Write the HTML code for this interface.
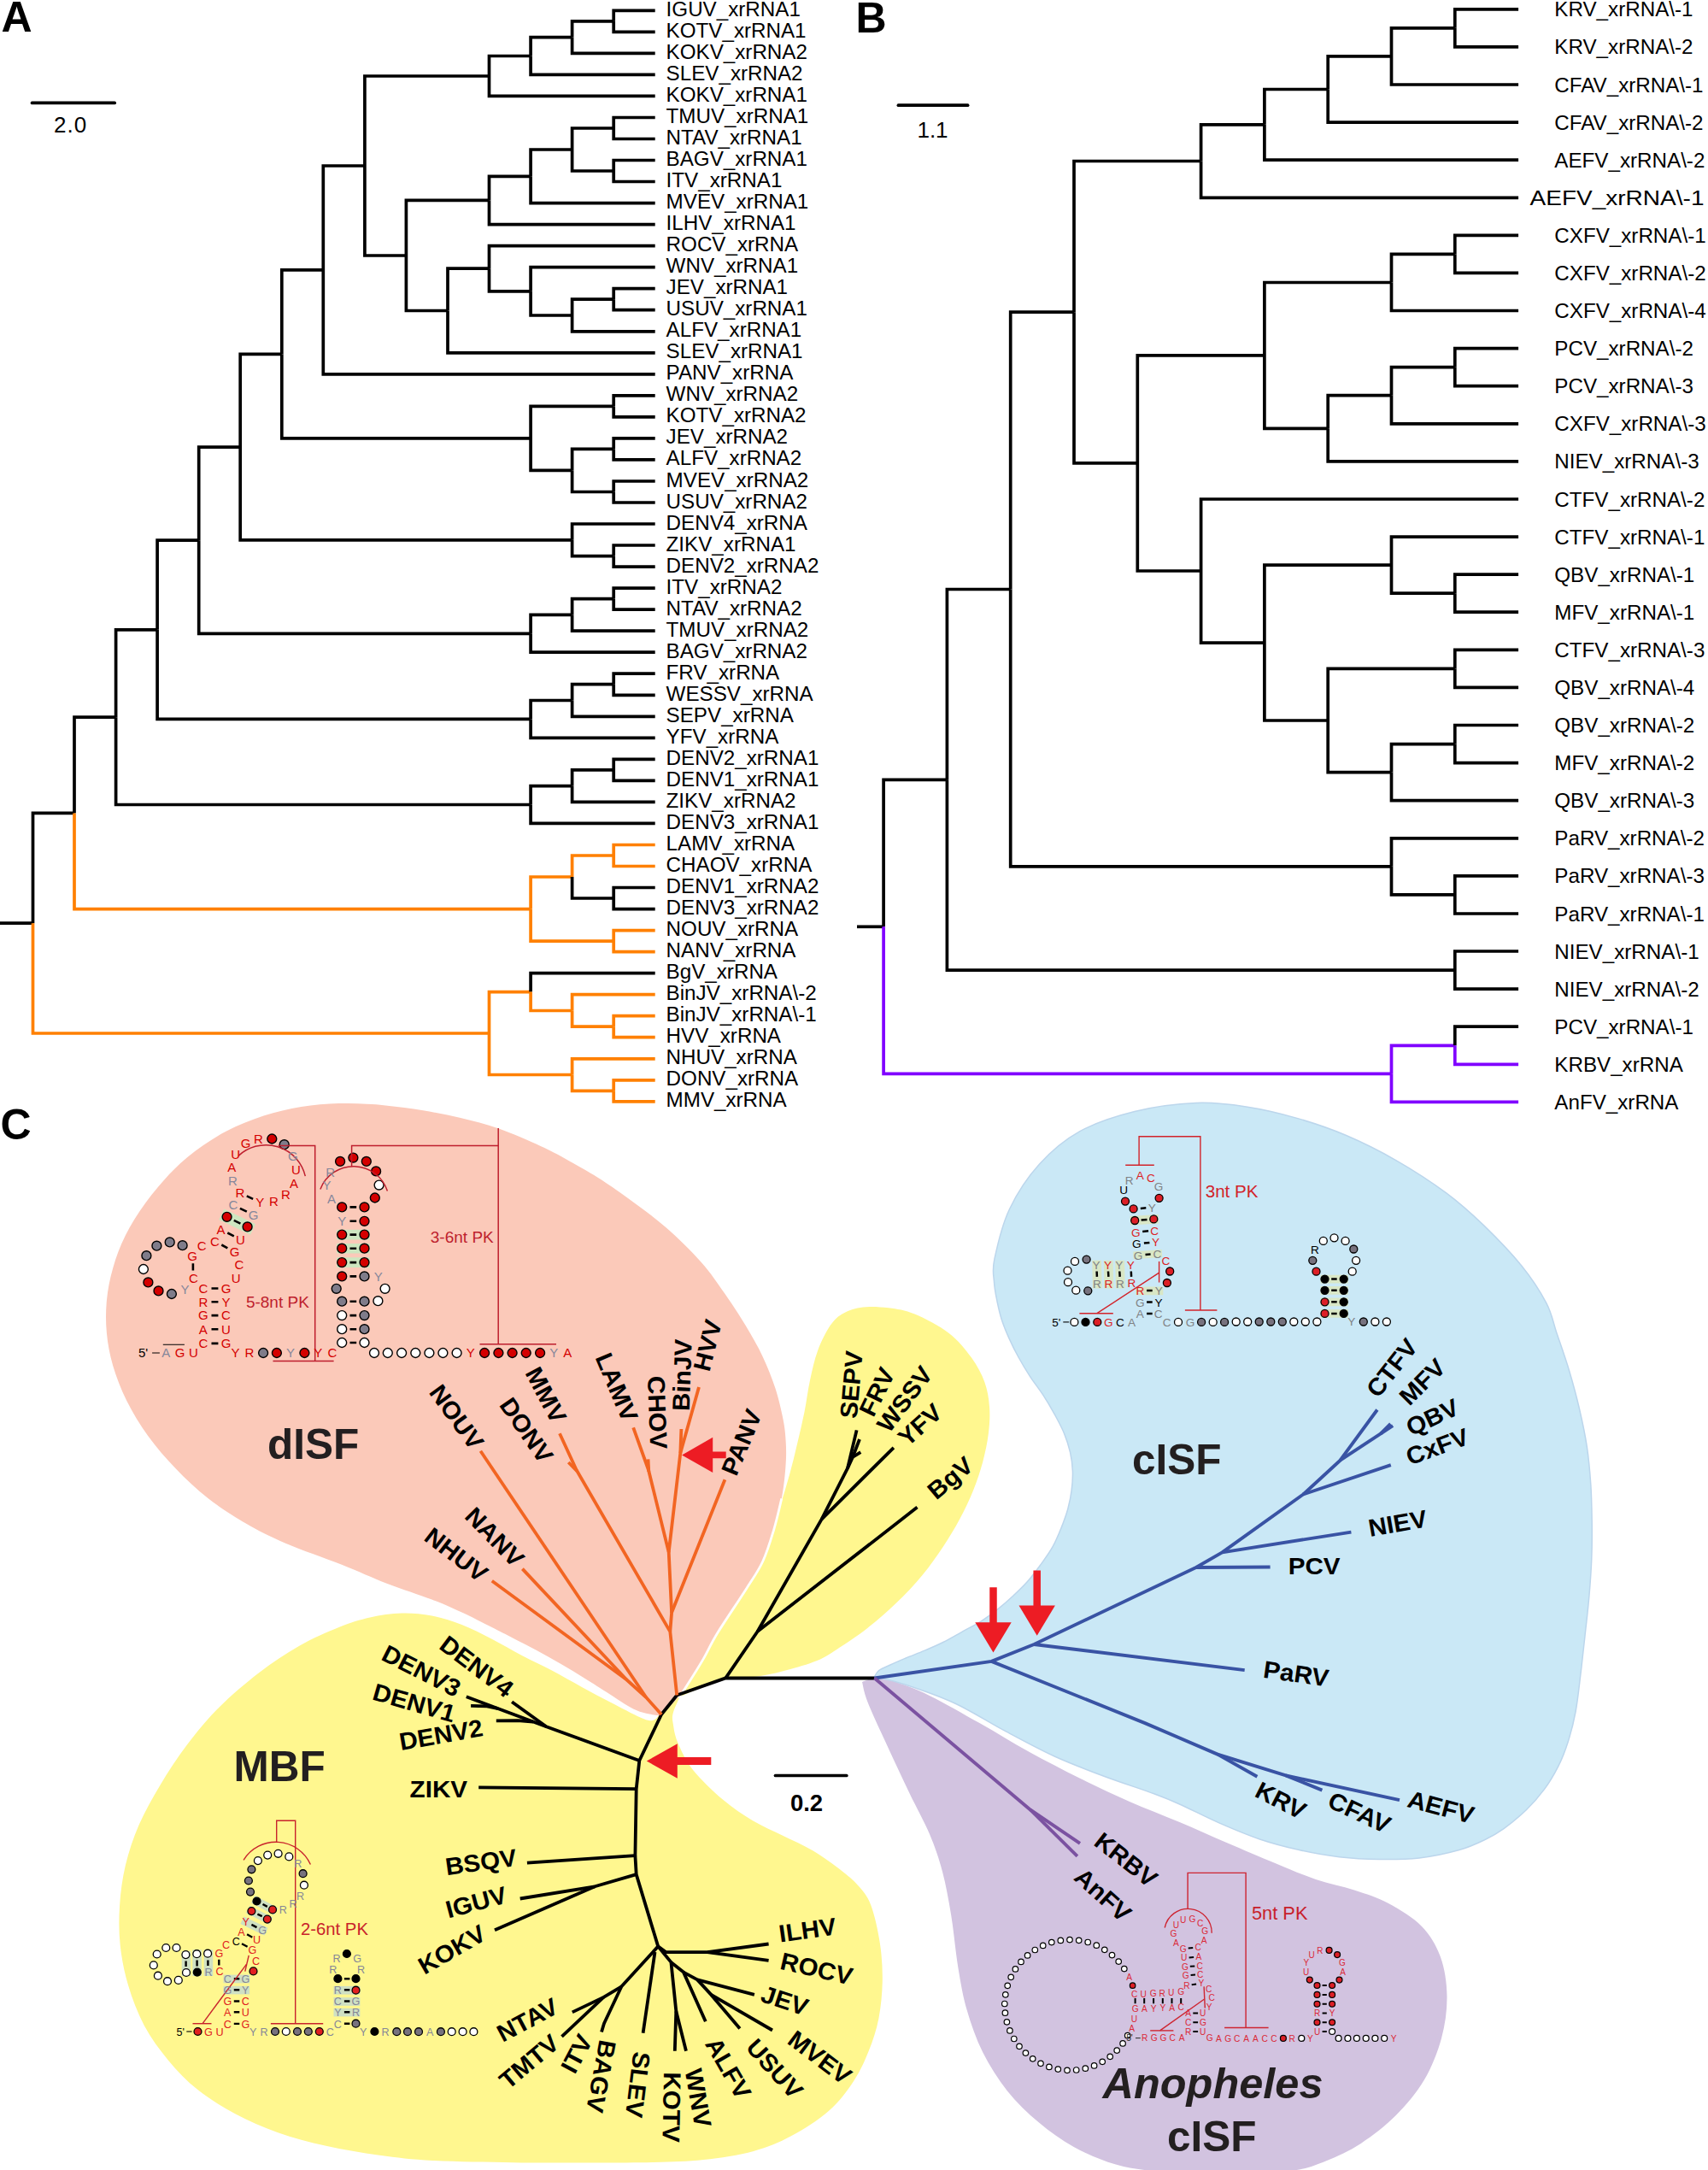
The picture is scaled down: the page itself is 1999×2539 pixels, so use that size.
<!DOCTYPE html>
<html><head><meta charset="utf-8"><title>Figure</title>
<style>html,body{margin:0;padding:0;background:#fff}svg{display:block}text{font-family:"Liberation Sans",sans-serif}</style>
</head><body>
<svg width="1999" height="2539" viewBox="0 0 1999 2539">
<rect width="1999" height="2539" fill="#fff"/>
<g fill="none" stroke-width="3.7" stroke-linejoin="miter">
<path d="M0,1080.2H38.5" stroke="#000"/>
<path d="M38.5,1080.2V951.4H87.0" stroke="#000"/>
<path d="M87.0,951.4V839.2H135.6" stroke="#000"/>
<path d="M135.6,839.2V736.8H184.1" stroke="#000"/>
<path d="M184.1,736.8V632.2H232.7" stroke="#000"/>
<path d="M232.7,632.2V523.1H281.2" stroke="#000"/>
<path d="M281.2,523.1V414.4H329.8" stroke="#000"/>
<path d="M329.8,414.4V315.9H378.3" stroke="#000"/>
<path d="M378.3,315.9V194.0H426.9" stroke="#000"/>
<path d="M426.9,194.0V89.0H572.5" stroke="#000"/>
<path d="M572.5,89.0V65.5H621.1" stroke="#000"/>
<path d="M621.1,65.5V43.6H669.6" stroke="#000"/>
<path d="M669.6,43.6V24.8H718.2" stroke="#000"/>
<path d="M718.2,24.8V12.3H766.7" stroke="#000"/>
<path d="M718.2,24.8V37.3H766.7" stroke="#000"/>
<path d="M669.6,43.6V62.4H766.7" stroke="#000"/>
<path d="M621.1,65.5V87.4H766.7" stroke="#000"/>
<path d="M572.5,89.0V112.4H766.7" stroke="#000"/>
<path d="M426.9,194.0V299.0H475.4" stroke="#000"/>
<path d="M475.4,299.0V234.4H572.5" stroke="#000"/>
<path d="M572.5,234.4V206.3H621.1" stroke="#000"/>
<path d="M621.1,206.3V175.0H669.6" stroke="#000"/>
<path d="M669.6,175.0V150.0H718.2" stroke="#000"/>
<path d="M718.2,150.0V137.5H766.7" stroke="#000"/>
<path d="M718.2,150.0V162.5H766.7" stroke="#000"/>
<path d="M669.6,175.0V200.0H718.2" stroke="#000"/>
<path d="M718.2,200.0V187.5H766.7" stroke="#000"/>
<path d="M718.2,200.0V212.5H766.7" stroke="#000"/>
<path d="M621.1,206.3V237.6H766.7" stroke="#000"/>
<path d="M572.5,234.4V262.6H766.7" stroke="#000"/>
<path d="M475.4,299.0V363.5H524.0" stroke="#000"/>
<path d="M524.0,363.5V314.2H572.5" stroke="#000"/>
<path d="M572.5,314.2V287.6H766.7" stroke="#000"/>
<path d="M572.5,314.2V340.8H621.1" stroke="#000"/>
<path d="M621.1,340.8V312.7H766.7" stroke="#000"/>
<path d="M621.1,340.8V369.0H669.6" stroke="#000"/>
<path d="M669.6,369.0V350.2H718.2" stroke="#000"/>
<path d="M718.2,350.2V337.7H766.7" stroke="#000"/>
<path d="M718.2,350.2V362.7H766.7" stroke="#000"/>
<path d="M669.6,369.0V387.8H766.7" stroke="#000"/>
<path d="M524.0,363.5V412.8H766.7" stroke="#000"/>
<path d="M378.3,315.9V437.8H766.7" stroke="#000"/>
<path d="M329.8,414.4V512.9H621.1" stroke="#000"/>
<path d="M621.1,512.9V475.4H718.2" stroke="#000"/>
<path d="M718.2,475.4V462.8H766.7" stroke="#000"/>
<path d="M718.2,475.4V487.9H766.7" stroke="#000"/>
<path d="M621.1,512.9V550.4H669.6" stroke="#000"/>
<path d="M669.6,550.4V525.4H718.2" stroke="#000"/>
<path d="M718.2,525.4V512.9H766.7" stroke="#000"/>
<path d="M718.2,525.4V537.9H766.7" stroke="#000"/>
<path d="M669.6,550.4V575.5H718.2" stroke="#000"/>
<path d="M718.2,575.5V563.0H766.7" stroke="#000"/>
<path d="M718.2,575.5V588.0H766.7" stroke="#000"/>
<path d="M281.2,523.1V631.8H669.6" stroke="#000"/>
<path d="M669.6,631.8V613.0H766.7" stroke="#000"/>
<path d="M669.6,631.8V650.6H718.2" stroke="#000"/>
<path d="M718.2,650.6V638.0H766.7" stroke="#000"/>
<path d="M718.2,650.6V663.1H766.7" stroke="#000"/>
<path d="M232.7,632.2V741.3H621.1" stroke="#000"/>
<path d="M621.1,741.3V719.4H669.6" stroke="#000"/>
<path d="M669.6,719.4V700.6H718.2" stroke="#000"/>
<path d="M718.2,700.6V688.1H766.7" stroke="#000"/>
<path d="M718.2,700.6V713.1H766.7" stroke="#000"/>
<path d="M669.6,719.4V738.2H766.7" stroke="#000"/>
<path d="M621.1,741.3V763.2H766.7" stroke="#000"/>
<path d="M184.1,736.8V841.4H621.1" stroke="#000"/>
<path d="M621.1,841.4V819.5H669.6" stroke="#000"/>
<path d="M669.6,819.5V800.7H718.2" stroke="#000"/>
<path d="M718.2,800.7V788.2H766.7" stroke="#000"/>
<path d="M718.2,800.7V813.3H766.7" stroke="#000"/>
<path d="M669.6,819.5V838.3H766.7" stroke="#000"/>
<path d="M621.1,841.4V863.3H766.7" stroke="#000"/>
<path d="M135.6,839.2V941.5H621.1" stroke="#000"/>
<path d="M621.1,941.5V919.6H669.6" stroke="#000"/>
<path d="M669.6,919.6V900.9H718.2" stroke="#000"/>
<path d="M718.2,900.9V888.4H766.7" stroke="#000"/>
<path d="M718.2,900.9V913.4H766.7" stroke="#000"/>
<path d="M669.6,919.6V938.4H766.7" stroke="#000"/>
<path d="M621.1,941.5V963.4H766.7" stroke="#000"/>
<path d="M87.0,951.4V1063.6H621.1" stroke="#FF8000"/>
<path d="M621.1,1063.6V1026.0H669.6" stroke="#FF8000"/>
<path d="M669.6,1026.0V1001.0H718.2" stroke="#FF8000"/>
<path d="M718.2,1001.0V988.5H766.7" stroke="#FF8000"/>
<path d="M718.2,1001.0V1013.5H766.7" stroke="#FF8000"/>
<path d="M669.6,1026.0V1051.0H718.2" stroke="#000"/>
<path d="M718.2,1051.0V1038.5H766.7" stroke="#000"/>
<path d="M718.2,1051.0V1063.6H766.7" stroke="#000"/>
<path d="M621.1,1063.6V1101.1H718.2" stroke="#FF8000"/>
<path d="M718.2,1101.1V1088.6H766.7" stroke="#FF8000"/>
<path d="M718.2,1101.1V1113.6H766.7" stroke="#FF8000"/>
<path d="M38.5,1080.2V1209.0H572.5" stroke="#FF8000"/>
<path d="M572.5,1209.0V1160.6H621.1" stroke="#FF8000"/>
<path d="M621.1,1160.6V1138.7H766.7" stroke="#000"/>
<path d="M621.1,1160.6V1182.5H669.6" stroke="#FF8000"/>
<path d="M669.6,1182.5V1163.7H766.7" stroke="#FF8000"/>
<path d="M669.6,1182.5V1201.2H718.2" stroke="#FF8000"/>
<path d="M718.2,1201.2V1188.7H766.7" stroke="#FF8000"/>
<path d="M718.2,1201.2V1213.7H766.7" stroke="#FF8000"/>
<path d="M572.5,1209.0V1257.5H669.6" stroke="#FF8000"/>
<path d="M669.6,1257.5V1238.8H766.7" stroke="#FF8000"/>
<path d="M669.6,1257.5V1276.3H718.2" stroke="#FF8000"/>
<path d="M718.2,1276.3V1263.8H766.7" stroke="#FF8000"/>
<path d="M718.2,1276.3V1288.8H766.7" stroke="#FF8000"/>
<path d="M1003,1084.3H1034.1" stroke="#000"/>
<path d="M1034.1,1084.3V912.3H1108.4" stroke="#000"/>
<path d="M1108.4,912.3V689.5H1182.7" stroke="#000"/>
<path d="M1182.7,689.5V365.2H1257.0" stroke="#000"/>
<path d="M1257.0,365.2V188.5H1405.6" stroke="#000"/>
<path d="M1405.6,188.5V145.8H1479.9" stroke="#000"/>
<path d="M1479.9,145.8V104.5H1554.2" stroke="#000"/>
<path d="M1554.2,104.5V65.9H1628.5" stroke="#000"/>
<path d="M1628.5,65.9V32.8H1702.8" stroke="#000"/>
<path d="M1702.8,32.8V10.8H1777.1" stroke="#000"/>
<path d="M1702.8,32.8V54.9H1777.1" stroke="#000"/>
<path d="M1628.5,65.9V99.0H1777.1" stroke="#000"/>
<path d="M1554.2,104.5V143.1H1777.1" stroke="#000"/>
<path d="M1479.9,145.8V187.2H1777.1" stroke="#000"/>
<path d="M1405.6,188.5V231.3H1777.1" stroke="#000"/>
<path d="M1257.0,365.2V541.9H1331.3" stroke="#000"/>
<path d="M1331.3,541.9V415.9H1479.9" stroke="#000"/>
<path d="M1479.9,415.9V330.5H1628.5" stroke="#000"/>
<path d="M1628.5,330.5V297.4H1702.8" stroke="#000"/>
<path d="M1702.8,297.4V275.3H1777.1" stroke="#000"/>
<path d="M1702.8,297.4V319.4H1777.1" stroke="#000"/>
<path d="M1628.5,330.5V363.5H1777.1" stroke="#000"/>
<path d="M1479.9,415.9V501.3H1554.2" stroke="#000"/>
<path d="M1554.2,501.3V462.7H1628.5" stroke="#000"/>
<path d="M1628.5,462.7V429.7H1702.8" stroke="#000"/>
<path d="M1702.8,429.7V407.6H1777.1" stroke="#000"/>
<path d="M1702.8,429.7V451.7H1777.1" stroke="#000"/>
<path d="M1628.5,462.7V495.8H1777.1" stroke="#000"/>
<path d="M1554.2,501.3V539.9H1777.1" stroke="#000"/>
<path d="M1331.3,541.9V668.0H1405.6" stroke="#000"/>
<path d="M1405.6,668.0V584.0H1777.1" stroke="#000"/>
<path d="M1405.6,668.0V752.1H1479.9" stroke="#000"/>
<path d="M1479.9,752.1V661.1H1628.5" stroke="#000"/>
<path d="M1628.5,661.1V628.1H1777.1" stroke="#000"/>
<path d="M1628.5,661.1V694.2H1702.8" stroke="#000"/>
<path d="M1702.8,694.2V672.1H1777.1" stroke="#000"/>
<path d="M1702.8,694.2V716.2H1777.1" stroke="#000"/>
<path d="M1479.9,752.1V843.0H1554.2" stroke="#000"/>
<path d="M1554.2,843.0V782.4H1702.8" stroke="#000"/>
<path d="M1702.8,782.4V760.3H1777.1" stroke="#000"/>
<path d="M1702.8,782.4V804.4H1777.1" stroke="#000"/>
<path d="M1554.2,843.0V903.6H1628.5" stroke="#000"/>
<path d="M1628.5,903.6V870.6H1702.8" stroke="#000"/>
<path d="M1702.8,870.6V848.5H1777.1" stroke="#000"/>
<path d="M1702.8,870.6V892.6H1777.1" stroke="#000"/>
<path d="M1628.5,903.6V936.7H1777.1" stroke="#000"/>
<path d="M1182.7,689.5V1013.8H1628.5" stroke="#000"/>
<path d="M1628.5,1013.8V980.8H1777.1" stroke="#000"/>
<path d="M1628.5,1013.8V1046.9H1702.8" stroke="#000"/>
<path d="M1702.8,1046.9V1024.9H1777.1" stroke="#000"/>
<path d="M1702.8,1046.9V1069.0H1777.1" stroke="#000"/>
<path d="M1108.4,912.3V1135.1H1702.8" stroke="#000"/>
<path d="M1702.8,1135.1V1113.0H1777.1" stroke="#000"/>
<path d="M1702.8,1135.1V1157.1H1777.1" stroke="#000"/>
<path d="M1034.1,1084.3V1256.3H1628.5" stroke="#8000FF"/>
<path d="M1628.5,1256.3V1223.3H1702.8" stroke="#8000FF"/>
<path d="M1702.8,1223.3V1201.2H1777.1" stroke="#000"/>
<path d="M1702.8,1223.3V1245.3H1777.1" stroke="#8000FF"/>
<path d="M1628.5,1256.3V1289.4H1777.1" stroke="#8000FF"/>
</g>
<g font-size="24.2" fill="#000">
<text x="779.6" y="18.8">IGUV_xrRNA1</text>
<text x="779.6" y="43.8">KOTV_xrRNA1</text>
<text x="779.6" y="68.9">KOKV_xrRNA2</text>
<text x="779.6" y="93.9">SLEV_xrRNA2</text>
<text x="779.6" y="118.9">KOKV_xrRNA1</text>
<text x="779.6" y="144.0">TMUV_xrRNA1</text>
<text x="779.6" y="169.0">NTAV_xrRNA1</text>
<text x="779.6" y="194.0">BAGV_xrRNA1</text>
<text x="779.6" y="219.0">ITV_xrRNA1</text>
<text x="779.6" y="244.1">MVEV_xrRNA1</text>
<text x="779.6" y="269.1">ILHV_xrRNA1</text>
<text x="779.6" y="294.1">ROCV_xrRNA</text>
<text x="779.6" y="319.2">WNV_xrRNA1</text>
<text x="779.6" y="344.2">JEV_xrRNA1</text>
<text x="779.6" y="369.2">USUV_xrRNA1</text>
<text x="779.6" y="394.3">ALFV_xrRNA1</text>
<text x="779.6" y="419.3">SLEV_xrRNA1</text>
<text x="779.6" y="444.3">PANV_xrRNA</text>
<text x="779.6" y="469.3">WNV_xrRNA2</text>
<text x="779.6" y="494.4">KOTV_xrRNA2</text>
<text x="779.6" y="519.4">JEV_xrRNA2</text>
<text x="779.6" y="544.4">ALFV_xrRNA2</text>
<text x="779.6" y="569.5">MVEV_xrRNA2</text>
<text x="779.6" y="594.5">USUV_xrRNA2</text>
<text x="779.6" y="619.5">DENV4_xrRNA</text>
<text x="779.6" y="644.5">ZIKV_xrRNA1</text>
<text x="779.6" y="669.6">DENV2_xrRNA2</text>
<text x="779.6" y="694.6">ITV_xrRNA2</text>
<text x="779.6" y="719.6">NTAV_xrRNA2</text>
<text x="779.6" y="744.7">TMUV_xrRNA2</text>
<text x="779.6" y="769.7">BAGV_xrRNA2</text>
<text x="779.6" y="794.7">FRV_xrRNA</text>
<text x="779.6" y="819.8">WESSV_xrRNA</text>
<text x="779.6" y="844.8">SEPV_xrRNA</text>
<text x="779.6" y="869.8">YFV_xrRNA</text>
<text x="779.6" y="894.9">DENV2_xrRNA1</text>
<text x="779.6" y="919.9">DENV1_xrRNA1</text>
<text x="779.6" y="944.9">ZIKV_xrRNA2</text>
<text x="779.6" y="969.9">DENV3_xrRNA1</text>
<text x="779.6" y="995.0">LAMV_xrRNA</text>
<text x="779.6" y="1020.0">CHAOV_xrRNA</text>
<text x="779.6" y="1045.0">DENV1_xrRNA2</text>
<text x="779.6" y="1070.1">DENV3_xrRNA2</text>
<text x="779.6" y="1095.1">NOUV_xrRNA</text>
<text x="779.6" y="1120.1">NANV_xrRNA</text>
<text x="779.6" y="1145.2">BgV_xrRNA</text>
<text x="779.6" y="1170.2">BinJV_xrRNA\-2</text>
<text x="779.6" y="1195.2">BinJV_xrRNA\-1</text>
<text x="779.6" y="1220.2">HVV_xrRNA</text>
<text x="779.6" y="1245.3">NHUV_xrRNA</text>
<text x="779.6" y="1270.3">DONV_xrRNA</text>
<text x="779.6" y="1295.3">MMV_xrRNA</text>
<text x="1819.3" y="19.3">KRV_xrRNA\-1</text>
<text x="1819.3" y="63.4">KRV_xrRNA\-2</text>
<text x="1819.3" y="107.5">CFAV_xrRNA\-1</text>
<text x="1819.3" y="151.6">CFAV_xrRNA\-2</text>
<text x="1819.3" y="195.7">AEFV_xrRNA\-2</text>
<text x="1790.5" y="239.8" textLength="204" lengthAdjust="spacingAndGlyphs">AEFV_xrRNA\-1</text>
<text x="1819.3" y="283.8">CXFV_xrRNA\-1</text>
<text x="1819.3" y="327.9">CXFV_xrRNA\-2</text>
<text x="1819.3" y="372.0">CXFV_xrRNA\-4</text>
<text x="1819.3" y="416.1">PCV_xrRNA\-2</text>
<text x="1819.3" y="460.2">PCV_xrRNA\-3</text>
<text x="1819.3" y="504.3">CXFV_xrRNA\-3</text>
<text x="1819.3" y="548.4">NIEV_xrRNA\-3</text>
<text x="1819.3" y="592.5">CTFV_xrRNA\-2</text>
<text x="1819.3" y="636.6">CTFV_xrRNA\-1</text>
<text x="1819.3" y="680.6">QBV_xrRNA\-1</text>
<text x="1819.3" y="724.7">MFV_xrRNA\-1</text>
<text x="1819.3" y="768.8">CTFV_xrRNA\-3</text>
<text x="1819.3" y="812.9">QBV_xrRNA\-4</text>
<text x="1819.3" y="857.0">QBV_xrRNA\-2</text>
<text x="1819.3" y="901.1">MFV_xrRNA\-2</text>
<text x="1819.3" y="945.2">QBV_xrRNA\-3</text>
<text x="1819.3" y="989.3">PaRV_xrRNA\-2</text>
<text x="1819.3" y="1033.4">PaRV_xrRNA\-3</text>
<text x="1819.3" y="1077.5">PaRV_xrRNA\-1</text>
<text x="1819.3" y="1121.5">NIEV_xrRNA\-1</text>
<text x="1819.3" y="1165.6">NIEV_xrRNA\-2</text>
<text x="1819.3" y="1209.7">PCV_xrRNA\-1</text>
<text x="1819.3" y="1253.8">KRBV_xrRNA</text>
<text x="1819.3" y="1297.9">AnFV_xrRNA</text>
</g>
<g stroke="#000" stroke-width="3.7" stroke-linecap="round"><path d="M37.5,120.4H134.2"/><path d="M1051.4,123.2H1132.6"/></g>
<g font-size="26" text-anchor="middle"><text x="82.2" y="155" textLength="38.2">2.0</text><text x="1091.5" y="161">1.1</text></g>
<g font-size="50" font-weight="bold"><text x="1.4" y="37">A</text><text x="1001.5" y="38.2">B</text><text x="0.5" y="1333.3">C</text></g>
<path d="M790.0,1988.0C791.7,1983.8 796.0,1971.1 800.0,1962.6C804.0,1954.1 807.0,1948.2 814.0,1936.9C821.0,1925.6 832.3,1907.5 842.0,1894.7C851.7,1881.9 864.8,1869.1 872.0,1860.0C879.2,1850.9 880.6,1850.0 885.3,1839.9C890.0,1829.8 895.4,1812.2 900.0,1799.3C904.6,1786.4 908.9,1774.8 912.9,1762.5C916.9,1750.2 920.6,1737.9 924.0,1725.6C927.4,1713.3 930.3,1701.1 933.2,1688.8C936.1,1676.5 939.0,1664.2 941.5,1651.9C944.0,1639.6 945.4,1627.0 948.0,1615.0C950.6,1603.0 953.2,1590.7 957.2,1580.0C961.2,1569.3 966.9,1557.9 971.9,1550.6C976.9,1543.3 981.0,1539.9 987.4,1536.4C993.8,1532.9 1001.2,1530.4 1010.0,1529.4C1018.8,1528.4 1029.9,1528.9 1040.0,1530.3C1050.1,1531.7 1058.9,1532.7 1070.6,1537.6C1082.3,1542.5 1099.3,1551.2 1110.4,1559.7C1121.5,1568.2 1130.0,1578.9 1137.0,1588.5C1144.0,1598.1 1148.9,1607.7 1152.4,1617.3C1155.9,1626.9 1157.2,1636.0 1158.0,1646.0C1158.8,1656.0 1158.2,1666.3 1156.9,1677.0C1155.6,1687.7 1153.2,1699.1 1150.3,1710.2C1147.3,1721.3 1143.6,1732.4 1139.2,1743.4C1134.8,1754.5 1129.6,1765.5 1123.7,1776.5C1117.8,1787.5 1111.2,1798.6 1103.8,1809.7C1096.4,1820.8 1088.7,1831.8 1079.5,1842.9C1070.3,1854.0 1059.2,1865.8 1048.5,1876.1C1037.8,1886.4 1026.4,1896.2 1015.3,1904.9C1004.2,1913.6 991.3,1922.0 982.1,1928.1C972.9,1934.2 969.5,1937.2 960.0,1941.4C950.5,1945.6 936.7,1949.7 925.0,1953.0C913.3,1956.3 903.0,1958.9 890.0,1961.0C877.0,1963.1 859.3,1962.8 846.8,1965.5C834.3,1968.2 824.5,1973.2 815.0,1977.0C805.5,1980.8 794.2,1986.2 790.0,1988.0Z" fill="#FFF78F"/>
<path d="M470.3,1887.5C482.4,1887.2 493.7,1888.2 505.4,1890.5C517.1,1892.8 528.8,1896.5 540.5,1901.0C552.2,1905.5 564.0,1911.7 575.7,1917.7C587.4,1923.7 599.1,1930.8 610.8,1937.0C622.5,1943.2 634.2,1948.4 645.9,1954.6C657.6,1960.8 669.5,1967.7 681.0,1973.9C692.5,1980.1 703.6,1986.1 715.0,1992.0C726.4,1997.9 741.2,2005.9 749.4,2009.4C757.6,2012.9 760.2,2013.6 764.0,2013.0C767.8,2012.4 770.7,2007.2 772.0,2006.0C773.3,2003.0 778.7,1991.0 780.0,1988.0C782.9,1986.9 794.6,1982.6 797.5,1981.5C795.9,1985.2 789.5,1997.7 787.9,2003.7C786.3,2009.8 787.0,2012.0 787.9,2017.8C788.8,2023.6 789.4,2030.0 793.2,2038.8C797.0,2047.6 801.9,2059.4 810.7,2070.5C819.5,2081.6 834.2,2095.7 845.9,2105.6C857.6,2115.5 869.3,2123.2 881.0,2130.2C892.7,2137.2 904.4,2141.8 916.1,2147.7C927.8,2153.5 939.5,2158.3 951.2,2165.3C962.9,2172.3 977.3,2182.8 986.4,2189.9C995.5,2197.0 1000.5,2201.3 1006.0,2208.0C1011.5,2214.7 1015.6,2219.0 1019.6,2230.0C1023.6,2241.0 1027.7,2259.3 1029.9,2273.9C1032.1,2288.5 1033.0,2303.2 1032.8,2317.8C1032.5,2332.4 1031.1,2348.0 1028.4,2361.7C1025.7,2375.4 1021.6,2387.6 1016.7,2399.8C1011.8,2412.0 1006.9,2423.2 999.1,2434.9C991.3,2446.6 982.0,2459.3 969.8,2470.0C957.6,2480.7 940.5,2491.5 925.9,2499.3C911.3,2507.1 899.1,2512.3 882.0,2516.9C864.9,2521.5 843.0,2524.9 823.5,2527.1C804.0,2529.3 789.3,2529.5 764.9,2530.1C740.5,2530.7 704.6,2530.6 677.1,2530.6C649.6,2530.6 628.4,2530.6 600.0,2530.2C571.6,2529.8 532.8,2529.4 506.8,2528.0C480.8,2526.6 465.1,2524.7 444.2,2521.8C423.3,2518.9 401.4,2515.2 381.6,2510.8C361.8,2506.4 343.0,2501.4 325.3,2495.2C307.6,2488.9 290.8,2481.7 275.2,2473.3C259.6,2465.0 244.4,2455.5 231.4,2445.1C218.4,2434.7 207.4,2423.2 197.0,2410.7C186.6,2398.2 176.6,2384.6 168.8,2370.0C161.0,2355.4 154.8,2338.8 150.1,2323.1C145.4,2307.4 142.4,2291.8 140.7,2276.1C139.0,2260.4 139.1,2244.8 140.1,2229.2C141.1,2213.6 143.2,2198.0 146.9,2182.3C150.7,2166.7 155.8,2151.0 162.6,2135.3C169.4,2119.7 178.2,2104.0 187.6,2088.4C197.0,2072.8 207.4,2056.6 218.9,2041.5C230.4,2026.4 242.3,2011.8 256.4,1997.7C270.5,1983.6 287.8,1969.0 303.4,1957.0C319.0,1945.0 334.7,1934.6 350.3,1925.7C365.9,1916.8 383.4,1909.3 397.2,1903.8C411.0,1898.3 420.8,1895.2 433.0,1892.5C445.2,1889.8 458.2,1887.8 470.3,1887.5Z" fill="#FFF78F"/>
<path d="M774.0,2007.5C771.7,2007.2 764.8,2006.5 760.0,2005.5C755.2,2004.5 750.0,2003.2 745.2,2001.2C740.4,1999.2 736.6,1997.0 731.1,1993.7C725.6,1990.4 720.2,1986.5 712.4,1981.5C704.6,1976.5 693.7,1969.5 684.3,1963.7C674.9,1957.9 665.6,1952.3 656.2,1946.8C646.8,1941.3 637.5,1936.0 628.1,1930.9C618.7,1925.8 608.7,1920.9 600.0,1916.4C591.3,1911.9 585.6,1909.0 575.7,1904.0C565.8,1899.0 552.2,1891.9 540.5,1886.5C528.8,1881.1 520.0,1877.1 505.4,1871.5C490.8,1865.9 470.3,1859.5 452.7,1852.7C435.1,1845.9 419.8,1838.5 400.0,1830.7C380.2,1822.9 353.0,1813.8 334.2,1805.7C315.4,1797.6 302.5,1791.1 287.4,1782.3C272.3,1773.5 257.1,1763.7 243.4,1753.0C229.7,1742.3 217.1,1730.1 205.4,1717.9C193.7,1705.7 182.7,1693.1 173.2,1679.9C163.7,1666.7 155.1,1652.6 148.3,1638.9C141.5,1625.2 136.1,1611.1 132.2,1597.9C128.3,1584.7 126.1,1572.5 124.9,1559.8C123.7,1547.1 123.7,1534.5 124.9,1521.8C126.1,1509.1 128.5,1496.4 132.2,1483.7C135.8,1471.0 140.5,1458.3 146.8,1445.6C153.2,1432.9 161.0,1420.3 170.3,1407.6C179.6,1394.9 191.3,1380.7 202.5,1369.5C213.7,1358.3 225.4,1348.8 237.6,1340.3C249.8,1331.8 261.9,1324.6 275.6,1318.3C289.3,1312.0 305.0,1306.3 319.6,1302.2C334.2,1298.1 348.9,1295.2 363.5,1293.4C378.1,1291.6 392.8,1291.1 407.4,1291.1C422.0,1291.1 436.7,1292.0 451.3,1293.4C465.9,1294.8 480.6,1296.8 495.2,1299.3C509.8,1301.8 524.3,1304.5 539.1,1308.1C553.9,1311.6 568.2,1315.1 583.8,1320.6C599.4,1326.1 619.7,1335.1 632.7,1341.0C645.7,1346.9 650.8,1349.8 662.0,1356.0C673.2,1362.2 687.8,1370.3 700.0,1378.0C712.2,1385.7 721.8,1392.3 735.0,1402.0C748.2,1411.7 764.9,1423.5 779.2,1436.0C793.5,1448.5 809.3,1464.0 820.8,1476.9C832.3,1489.9 839.8,1501.4 848.4,1513.7C857.0,1526.0 865.0,1538.3 872.4,1550.6C879.8,1562.9 886.9,1575.1 892.7,1587.4C898.5,1599.7 903.4,1612.0 907.4,1624.3C911.4,1636.6 914.5,1650.3 916.6,1661.1C918.7,1671.8 919.3,1679.6 919.8,1688.8C920.3,1698.0 920.2,1705.7 919.4,1716.4C918.6,1727.2 917.1,1741.0 914.8,1753.3C912.5,1765.6 909.3,1777.8 905.6,1790.1C901.9,1802.4 898.1,1815.5 892.7,1827.0C887.4,1838.5 882.3,1845.1 873.5,1859.0C864.7,1872.9 848.5,1896.5 840.0,1910.3C831.5,1924.1 828.7,1931.6 822.7,1941.9C816.7,1952.2 808.4,1965.3 803.9,1972.3C799.4,1979.3 800.7,1978.1 795.7,1984.0C790.7,1989.9 777.6,2003.6 774.0,2007.5Z" fill="#FBC9B9"/>
<path d="M794.5,1986.5C796.1,1984.1 799.2,1979.7 803.9,1972.3C808.6,1964.9 816.7,1952.2 822.7,1941.9C828.7,1931.6 831.5,1924.1 840.0,1910.3C848.5,1896.5 864.7,1872.9 873.5,1859.0C882.3,1845.1 887.4,1838.5 892.7,1827.0C898.1,1815.5 901.9,1802.4 905.6,1790.1C909.3,1777.8 913.3,1759.4 914.8,1753.3" fill="none" stroke="#fff" stroke-width="2.8"/>
<path d="M1009.0,1968.0C1010.1,1971.9 1010.6,1979.0 1015.5,1991.5C1020.4,2004.0 1030.4,2025.2 1038.6,2043.0C1046.8,2060.8 1056.2,2080.8 1064.4,2098.0C1072.6,2115.2 1081.6,2130.8 1088.0,2146.1C1094.4,2161.4 1098.8,2174.1 1103.0,2190.0C1107.2,2205.9 1110.2,2222.7 1113.3,2241.5C1116.4,2260.3 1118.4,2284.6 1121.5,2303.0C1124.6,2321.4 1126.9,2335.7 1131.7,2352.1C1136.5,2368.5 1142.3,2385.6 1150.2,2401.3C1158.1,2417.0 1168.0,2432.7 1178.9,2446.4C1189.8,2460.1 1202.7,2472.4 1215.7,2483.3C1228.7,2494.2 1241.7,2503.8 1256.7,2512.0C1271.7,2520.2 1288.7,2527.7 1305.9,2532.5C1323.1,2537.3 1337.7,2539.2 1360.0,2541.0C1382.3,2542.8 1414.9,2543.2 1440.0,2543.0C1465.1,2542.8 1492.2,2542.4 1510.8,2540.0C1529.4,2537.6 1538.1,2533.8 1551.8,2528.4C1565.5,2523.1 1579.1,2516.8 1592.8,2507.9C1606.5,2499.0 1621.5,2487.4 1633.8,2475.1C1646.1,2462.8 1657.7,2449.1 1666.6,2434.1C1675.5,2419.1 1682.5,2401.3 1687.0,2384.9C1691.5,2368.5 1693.7,2351.5 1693.5,2335.7C1693.3,2319.9 1690.9,2303.6 1686.0,2290.0C1681.1,2276.4 1674.2,2264.5 1664.0,2254.0C1653.8,2243.5 1638.2,2234.1 1625.0,2227.0C1611.8,2219.9 1599.2,2216.2 1585.0,2211.5C1570.8,2206.8 1555.4,2204.2 1540.0,2199.0C1524.6,2193.8 1509.7,2187.1 1492.4,2180.0C1475.1,2172.9 1454.9,2164.3 1436.2,2156.3C1417.5,2148.3 1399.0,2139.9 1380.0,2131.8C1361.0,2123.8 1341.4,2116.6 1322.0,2108.0C1302.6,2099.4 1283.0,2090.2 1263.5,2080.5C1244.0,2070.8 1224.4,2060.7 1204.9,2050.0C1185.4,2039.3 1165.9,2027.1 1146.4,2016.1C1126.9,2005.1 1104.9,1992.2 1087.8,1983.9C1070.7,1975.6 1054.4,1970.0 1043.9,1966.3C1033.4,1962.6 1028.2,1962.7 1025.0,1962.0C1022.3,1963.0 1011.7,1967.0 1009.0,1968.0Z" fill="#D2C3E0"/>
<path d="M1023.5,1962.0C1024.3,1960.8 1025.5,1956.9 1028.6,1954.6C1031.7,1952.3 1036.7,1950.4 1041.9,1948.0C1047.1,1945.6 1053.0,1943.1 1059.6,1940.3C1066.2,1937.5 1074.3,1934.5 1081.7,1931.4C1089.1,1928.3 1096.4,1925.2 1103.8,1921.5C1111.2,1917.8 1118.5,1913.4 1125.9,1909.3C1133.3,1905.2 1141.0,1901.5 1148.0,1897.1C1155.0,1892.7 1161.7,1887.7 1168.0,1882.7C1174.3,1877.7 1179.8,1872.8 1185.7,1867.3C1191.6,1861.8 1197.9,1855.9 1203.4,1849.6C1208.9,1843.3 1214.0,1836.2 1218.8,1829.6C1223.6,1822.9 1228.2,1816.7 1232.1,1809.7C1236.0,1802.7 1239.1,1795.0 1242.1,1787.6C1245.0,1780.2 1247.8,1772.9 1249.8,1765.5C1251.8,1758.1 1253.3,1750.8 1254.2,1743.4C1255.1,1736.0 1255.7,1728.6 1255.4,1721.2C1255.1,1713.8 1254.2,1706.5 1252.5,1699.1C1250.8,1691.7 1248.4,1684.4 1245.4,1677.0C1242.4,1669.6 1238.3,1662.3 1234.3,1654.9C1230.2,1647.5 1225.9,1640.1 1221.1,1632.7C1216.3,1625.3 1210.4,1618.0 1205.6,1610.6C1200.8,1603.2 1196.4,1595.9 1192.3,1588.5C1188.2,1581.1 1184.5,1573.8 1181.2,1566.4C1177.9,1559.0 1174.8,1551.6 1172.4,1544.2C1170.0,1536.8 1168.4,1529.5 1166.9,1522.1C1165.4,1514.7 1164.0,1508.2 1163.5,1500.0C1163.0,1491.8 1160.9,1487.4 1163.9,1473.2C1166.9,1459.0 1172.7,1433.2 1181.5,1414.7C1190.3,1396.2 1202.9,1377.1 1216.6,1362.0C1230.3,1346.9 1245.0,1334.2 1263.5,1323.9C1282.0,1313.7 1305.2,1306.1 1327.9,1300.5C1350.7,1294.9 1378.2,1291.4 1400.0,1290.5C1421.8,1289.6 1439.0,1292.0 1458.5,1294.9C1478.0,1297.8 1497.6,1302.5 1517.1,1308.1C1536.6,1313.7 1556.1,1320.2 1575.6,1328.5C1595.1,1336.8 1614.7,1346.6 1634.2,1357.8C1653.7,1369.0 1675.6,1383.2 1692.7,1395.9C1709.8,1408.6 1722.1,1419.8 1736.7,1433.9C1751.3,1448.1 1768.4,1465.7 1780.6,1480.8C1792.8,1495.9 1802.9,1511.5 1809.8,1524.7C1816.7,1537.9 1817.5,1546.8 1822.0,1560.0C1826.5,1573.2 1832.3,1589.5 1836.7,1604.2C1841.1,1619.0 1845.1,1633.8 1848.5,1648.5C1851.9,1663.2 1855.1,1678.0 1857.3,1692.7C1859.5,1707.5 1860.8,1722.2 1861.8,1737.0C1862.8,1751.8 1863.0,1766.5 1863.2,1781.2C1863.4,1796.0 1863.3,1810.8 1862.7,1825.5C1862.1,1840.2 1861.0,1855.0 1859.7,1869.7C1858.4,1884.5 1856.6,1899.2 1855.0,1914.0C1853.4,1928.8 1851.8,1943.5 1850.0,1958.2C1848.2,1973.0 1846.6,1989.2 1844.1,2002.5C1841.6,2015.8 1838.7,2027.1 1835.2,2037.9C1831.8,2048.7 1828.1,2058.1 1823.4,2067.4C1818.7,2076.7 1813.4,2085.6 1807.2,2093.9C1801.0,2102.2 1794.4,2109.9 1786.5,2117.5C1778.6,2125.1 1768.1,2133.8 1760.0,2139.6C1751.9,2145.4 1746.7,2148.3 1738.0,2152.5C1729.3,2156.7 1720.7,2160.9 1707.9,2164.5C1695.1,2168.1 1676.6,2172.1 1661.0,2173.9C1645.4,2175.7 1629.8,2175.7 1614.2,2175.5C1598.6,2175.3 1583.0,2174.5 1567.4,2172.7C1551.8,2170.9 1536.1,2168.0 1520.5,2164.5C1504.9,2161.0 1489.3,2157.0 1473.7,2151.7C1458.1,2146.4 1442.4,2139.7 1426.8,2132.9C1411.2,2126.1 1392.6,2116.3 1380.0,2110.7C1367.4,2105.0 1365.8,2104.4 1351.3,2099.0C1336.8,2093.6 1312.2,2085.8 1292.7,2078.5C1273.2,2071.2 1253.7,2063.9 1234.2,2055.0C1214.7,2046.1 1195.1,2035.3 1175.6,2024.9C1156.1,2014.5 1136.6,2001.7 1117.1,1992.7C1097.6,1983.7 1074.1,1975.8 1058.5,1970.7C1042.9,1965.6 1029.3,1963.5 1023.5,1962.0Z" fill="#CAE8F6" stroke="#BCD6EC" stroke-width="1.5"/>
<g fill="none" stroke-linejoin="round" stroke-linecap="butt">
<path d="M1023.5,1963.5L849.3,1963.4L792.2,1983.5L774.1,2006.0L748.3,2060.0L744.7,2093.2L743.4,2171.2L744.7,2193.1L770.2,2277.4" stroke="#000" stroke-width="3.8"/>
<path d="M849.3,1963.4L886.7,1908.8L1073.5,1763.6" stroke="#000" stroke-width="3.8"/>
<path d="M886.7,1908.8L961.6,1777.6L1045.9,1693.8" stroke="#000" stroke-width="3.8"/>
<path d="M961.6,1777.6L992.0,1717.9L1002.6,1673.4" stroke="#000" stroke-width="3.8"/>
<path d="M992.0,1717.9L997.9,1705.0L1006.0,1684.0" stroke="#000" stroke-width="3.8"/>
<path d="M997.9,1705.0L1007.3,1699.2" stroke="#000" stroke-width="3.8"/>
<path d="M748.3,2060.0L639.4,2020.2L599.1,1991.3" stroke="#000" stroke-width="3.8"/>
<path d="M639.4,2020.2L545.8,1985.2" stroke="#000" stroke-width="3.8"/>
<path d="M580.8,2013.4L606.0,2013.2L624.0,2014.5" stroke="#000" stroke-width="3.8"/>
<path d="M551.1,1995.9L570.0,1996.3L583.0,1999.2" stroke="#000" stroke-width="3.8"/>
<path d="M744.7,2093.2L560.2,2091.4" stroke="#000" stroke-width="3.8"/>
<path d="M743.4,2171.2L616.9,2179.7" stroke="#000" stroke-width="3.8"/>
<path d="M744.7,2193.1L696.2,2207.3L608.7,2221.5" stroke="#000" stroke-width="3.8"/>
<path d="M696.2,2207.3L579.0,2258.3" stroke="#000" stroke-width="3.8"/>
<path d="M770.2,2277.4L779.6,2284.2L827.9,2284.2L899.6,2274.5" stroke="#000" stroke-width="3.8"/>
<path d="M827.9,2284.2L899.6,2293.8" stroke="#000" stroke-width="3.8"/>
<path d="M770.2,2277.4L785.4,2295.9L791.3,2353.0L789.8,2399.8" stroke="#000" stroke-width="3.8"/>
<path d="M791.3,2353.0L803.0,2399.8" stroke="#000" stroke-width="3.8"/>
<path d="M785.4,2295.9L800.0,2307.6L825.8,2365.2" stroke="#000" stroke-width="3.8"/>
<path d="M800.0,2307.6L816.2,2316.4L882.9,2333.9" stroke="#000" stroke-width="3.8"/>
<path d="M816.2,2316.4L832.3,2333.9L865.9,2373.4" stroke="#000" stroke-width="3.8"/>
<path d="M832.3,2333.9L904.0,2375.5" stroke="#000" stroke-width="3.8"/>
<path d="M766.5,2284.0L752.6,2378.7" stroke="#000" stroke-width="3.8"/>
<path d="M770.2,2277.4L727.4,2324.3L707.0,2367.5L704.0,2377.5" stroke="#000" stroke-width="3.8"/>
<path d="M727.4,2324.3L706.4,2336.9L669.8,2354.4" stroke="#000" stroke-width="3.8"/>
<path d="M706.4,2336.9L657.5,2382.8" stroke="#000" stroke-width="3.8"/>
<path d="M774.1,2006.0L756.0,1985.8L733.0,1965.0L575.8,1849.7" stroke="#F26522" stroke-width="3.8"/>
<path d="M733.0,1965.0L611.4,1835.6" stroke="#F26522" stroke-width="3.8"/>
<path d="M756.0,1985.8L562.4,1697.7" stroke="#F26522" stroke-width="3.8"/>
<path d="M792.2,1983.5L784.3,1909.1L674.7,1720.0L655.0,1677.3" stroke="#F26522" stroke-width="3.8"/>
<path d="M784.3,1909.1L786.1,1886.8L848.4,1731.2" stroke="#F26522" stroke-width="3.8"/>
<path d="M786.1,1886.8L782.7,1816.2L759.0,1720.0L741.2,1670.3" stroke="#F26522" stroke-width="3.8"/>
<path d="M782.7,1816.2L796.3,1700.3L797.4,1672.0" stroke="#F26522" stroke-width="3.8"/>
<path d="M796.3,1700.3L818.0,1623.0" stroke="#F26522" stroke-width="3.8"/>
<path d="M675.5,1721.5L665.3,1711.0" stroke="#F26522" stroke-width="3.8"/>
<path d="M759.3,1722.0L758.5,1707.3" stroke="#F26522" stroke-width="3.8"/>
<path d="M1616.0,1677.5L1627.5,1666.0" stroke="#3953A4" stroke-width="3.9"/>
<path d="M1023.5,1963.5L1160.4,1943.9L1210.2,1924.0L1399.8,1834.0L1430.4,1816.4L1525.2,1748.5L1568.5,1708.7L1611.9,1649.5" stroke="#3953A4" stroke-width="3.9"/>
<path d="M1210.2,1924.0L1456.7,1954.1" stroke="#3953A4" stroke-width="3.9"/>
<path d="M1399.8,1834.0L1486.6,1833.5" stroke="#3953A4" stroke-width="3.9"/>
<path d="M1430.4,1816.4L1581.4,1792.6" stroke="#3953A4" stroke-width="3.9"/>
<path d="M1525.2,1748.5L1627.8,1714.1" stroke="#3953A4" stroke-width="3.9"/>
<path d="M1568.5,1708.7L1630.1,1668.2" stroke="#3953A4" stroke-width="3.9"/>
<path d="M1160.4,1943.9L1340.0,2016.1L1425.0,2052.6L1471.4,2078.7" stroke="#3953A4" stroke-width="3.9"/>
<path d="M1425.0,2052.6L1504.9,2077.4L1547.4,2094.6" stroke="#3953A4" stroke-width="3.9"/>
<path d="M1504.9,2077.4L1638.0,2106.2" stroke="#3953A4" stroke-width="3.9"/>
<path d="M1023.5,1963.5L1206.1,2117.7L1264.0,2156.9" stroke="#7B52A1" stroke-width="3.9"/>
<path d="M1206.1,2117.7L1260.9,2171.8" stroke="#7B52A1" stroke-width="3.9"/>
</g>
<g font-size="28.5" font-weight="bold" text-anchor="middle" fill="#000">
<text transform="translate(996.0,1620.0) rotate(-85) scale(1.04,1)" y="10.2">SEPV</text>
<text transform="translate(1026.0,1628.5) rotate(-64) scale(1.04,1)" y="10.2">FRV</text>
<text transform="translate(1058.5,1637.0) rotate(-53) scale(1.04,1)" y="10.2">WSSV</text>
<text transform="translate(1076.5,1667.0) rotate(-42) scale(1.04,1)" y="10.2">YFV</text>
<text transform="translate(1112.0,1729.0) rotate(-40) scale(1.04,1)" y="10.2">BgV</text>
<text transform="translate(534.6,1657.8) rotate(54) scale(1.04,1)" y="10.2">NOUV</text>
<text transform="translate(616.5,1673.3) rotate(55) scale(1.04,1)" y="10.2">DONV</text>
<text transform="translate(639.2,1632.1) rotate(62) scale(1.04,1)" y="10.2">MMV</text>
<text transform="translate(722.1,1623.0) rotate(67) scale(1.04,1)" y="10.2">LAMV</text>
<text transform="translate(769.8,1652.7) rotate(88) scale(1.04,1)" y="10.2">CHOV</text>
<text transform="translate(798.1,1608.9) rotate(-88) scale(1.04,1)" y="10.2">BinJV</text>
<text transform="translate(827.8,1574.1) rotate(-76) scale(1.04,1)" y="10.2">HVV</text>
<text transform="translate(867.7,1687.4) rotate(-67.6) scale(1.04,1)" y="10.2">PANV</text>
<text transform="translate(579.2,1798.2) rotate(45.7) scale(1.04,1)" y="10.2">NANV</text>
<text transform="translate(534.1,1818.8) rotate(37.7) scale(1.04,1)" y="10.2">NHUV</text>
<text transform="translate(558.0,1949.5) rotate(37) scale(1.04,1)" y="10.2">DENV4</text>
<text transform="translate(493.4,1954.6) rotate(27) scale(1.04,1)" y="10.2">DENV3</text>
<text transform="translate(484.9,1992.1) rotate(16) scale(1.04,1)" y="10.2">DENV1</text>
<text transform="translate(516.0,2029.5) rotate(-10) scale(1.04,1)" y="10.2">DENV2</text>
<text transform="translate(513.3,2092.7) rotate(0) scale(1.04,1)" y="10.2">ZIKV</text>
<text transform="translate(562.8,2178.4) rotate(-8) scale(1.04,1)" y="10.2">BSQV</text>
<text transform="translate(557.1,2225.3) rotate(-15) scale(1.04,1)" y="10.2">IGUV</text>
<text transform="translate(528.8,2280.7) rotate(-30) scale(1.04,1)" y="10.2">KOKV</text>
<text transform="translate(945.0,2257.8) rotate(-8) scale(1.04,1)" y="10.2">ILHV</text>
<text transform="translate(955.8,2303.2) rotate(13) scale(1.04,1)" y="10.2">ROCV</text>
<text transform="translate(918.6,2340.4) rotate(18) scale(1.04,1)" y="10.2">JEV</text>
<text transform="translate(959.6,2407.1) rotate(37) scale(1.04,1)" y="10.2">MVEV</text>
<text transform="translate(906.9,2420.3) rotate(48) scale(1.04,1)" y="10.2">USUV</text>
<text transform="translate(852.7,2419.7) rotate(60) scale(1.04,1)" y="10.2">ALFV</text>
<text transform="translate(817.5,2454.6) rotate(80) scale(1.04,1)" y="10.2">WNV</text>
<text transform="translate(786.4,2465.5) rotate(91) scale(1.04,1)" y="10.2">KOTV</text>
<text transform="translate(746.8,2439.3) rotate(97) scale(1.04,1)" y="10.2">SLEV</text>
<text transform="translate(703.8,2429.5) rotate(100.6) scale(1.04,1)" y="10.2">BAGV</text>
<text transform="translate(674.5,2402.8) rotate(-62) scale(1.04,1)" y="10.2">ITV</text>
<text transform="translate(619.0,2412.0) rotate(-40) scale(1.04,1)" y="10.2">TMTV</text>
<text transform="translate(617.1,2363.2) rotate(-28) scale(1.04,1)" y="10.2">NTAV</text>
<text transform="translate(1538.1,1831.7) rotate(0) scale(1.04,1)" y="10.2">PCV</text>
<text transform="translate(1635.7,1782.0) rotate(-10) scale(1.04,1)" y="10.2">NIEV</text>
<text transform="translate(1682.1,1692.3) rotate(-20) scale(1.04,1)" y="10.2">CxFV</text>
<text transform="translate(1676.3,1657.9) rotate(-25) scale(1.04,1)" y="10.2">QBV</text>
<text transform="translate(1664.5,1616.7) rotate(-45) scale(1.04,1)" y="10.2">MFV</text>
<text transform="translate(1628.7,1600.3) rotate(-52) scale(1.04,1)" y="10.2">CTFV</text>
<text transform="translate(1517.0,1958.0) rotate(8) scale(1.04,1)" y="10.2">PaRV</text>
<text transform="translate(1499.2,2106.2) rotate(27) scale(1.04,1)" y="10.2">KRV</text>
<text transform="translate(1591.2,2120.4) rotate(25) scale(1.04,1)" y="10.2">CFAV</text>
<text transform="translate(1686.5,2114.0) rotate(15) scale(1.04,1)" y="10.2">AEFV</text>
<text transform="translate(1318.1,2175.7) rotate(38) scale(1.04,1)" y="10.2">KRBV</text>
<text transform="translate(1291.1,2216.9) rotate(42) scale(1.04,1)" y="10.2">AnFV</text>
</g>
<g font-size="49.5" font-weight="bold" fill="#231F20">
<text x="313" y="1706.7">dISF</text><text x="273.5" y="2084.4">MBF</text><text x="1325" y="1725">cISF</text>
<text x="1290.5" y="2455.4" font-style="italic" textLength="258" lengthAdjust="spacingAndGlyphs">Anopheles</text><text x="1366" y="2517">cISF</text>
</g>
<path fill="#ED1C24" d="M1162.5,1933.6L1141.3,1898.1999999999998H1158.25V1857.2H1166.75V1898.1999999999998H1183.7Z"/>
<path fill="#ED1C24" d="M1213.7,1913.7L1192.5,1878.6000000000001H1209.45V1837.6H1217.95V1878.6000000000001H1234.9Z"/>
<path fill="#ED1C24" d="M756.8,2060.5L792.8,2040.2V2056.1H832.3V2064.9H792.8V2080.8Z"/>
<path fill="#ED1C24" d="M798.1,1702.4L834.2,1681.8000000000002V1698.5500000000002H849.7V1706.25H834.2V1723.0Z"/>
<path d="M907.5,2077.5H990.8" stroke="#000" stroke-width="3.7" stroke-linecap="round"/>
<text x="944" y="2118.5" font-size="27.5" font-weight="bold" text-anchor="middle">0.2</text>
<g fill="#CDE6C0">
<path d="M256.2,1427.1L292.9,1444.8L299.0,1432.2L262.3,1414.5Z"/>
<path d="M394.1,1471.3L432.7,1471.3L432.7,1482.9L394.1,1482.9Z"/>
<path d="M394.1,1454.9L432.7,1454.9L432.7,1466.5L394.1,1466.5Z"/>
<path d="M394.1,1438.8L432.7,1438.8L432.7,1450.4L394.1,1450.4Z"/>
</g>
<g stroke="#000" stroke-width="2.6">
<path d="M247.5,1571.9L255.4,1571.9M247.5,1555.2L255.4,1555.2M247.5,1539.1L255.4,1539.1M247.5,1523.3L255.4,1523.3M247.5,1507.5L255.4,1507.5M225.9,1478.3L225.9,1486.4M259.3,1456.5L266.3,1460.4M266.3,1442.5L273.8,1446.3M273.8,1427.9L281.4,1431.6M280.9,1413.8L288.8,1417.7M288.8,1399.3L296.1,1402.8M409.5,1571.0L417.2,1571.0M409.5,1555.2L417.2,1555.2M409.5,1539.1L417.2,1539.1M409.5,1522.7L417.2,1522.7M409.5,1493.4L417.2,1493.4M409.5,1477.1L417.2,1477.1M409.5,1460.7L417.2,1460.7M409.5,1444.6L417.2,1444.6M409.5,1428.8L417.2,1428.8M409.5,1412.4L417.2,1412.4"/>
</g>
<g stroke="#000" stroke-width="1.4">
<circle cx="308.1" cy="1583.0" r="5.45" fill="#7F7C8A"/>
<circle cx="323.9" cy="1583.0" r="5.45" fill="#D40000"/>
<circle cx="356.4" cy="1583.0" r="5.45" fill="#D40000"/>
<circle cx="265.6" cy="1423.8" r="5.45" fill="#D40000"/>
<circle cx="289.6" cy="1435.4" r="5.45" fill="#D40000"/>
<circle cx="318.3" cy="1332.5" r="5.45" fill="#D40000"/>
<circle cx="332.7" cy="1339.2" r="5.45" fill="#7F7C8A"/>
<circle cx="183.4" cy="1457.7" r="5.45" fill="#7F7C8A"/>
<circle cx="198.7" cy="1453.4" r="5.45" fill="#7F7C8A"/>
<circle cx="213.6" cy="1457.2" r="5.45" fill="#7F7C8A"/>
<circle cx="171.4" cy="1469.2" r="5.45" fill="#7F7C8A"/>
<circle cx="167.9" cy="1485.0" r="5.45" fill="#fff"/>
<circle cx="173.4" cy="1500.4" r="5.45" fill="#D40000"/>
<circle cx="185.5" cy="1510.4" r="5.45" fill="#D40000"/>
<circle cx="200.9" cy="1514.0" r="5.45" fill="#7F7C8A"/>
<circle cx="400.2" cy="1571.0" r="5.45" fill="#fff"/>
<circle cx="426.5" cy="1571.0" r="5.45" fill="#fff"/>
<circle cx="400.2" cy="1555.2" r="5.45" fill="#fff"/>
<circle cx="426.5" cy="1555.2" r="5.45" fill="#7F7C8A"/>
<circle cx="400.2" cy="1539.1" r="5.45" fill="#fff"/>
<circle cx="426.5" cy="1539.1" r="5.45" fill="#7F7C8A"/>
<circle cx="400.2" cy="1522.7" r="5.45" fill="#7F7C8A"/>
<circle cx="426.5" cy="1522.7" r="5.45" fill="#7F7C8A"/>
<circle cx="400.2" cy="1493.4" r="5.45" fill="#D40000"/>
<circle cx="426.5" cy="1493.4" r="5.45" fill="#7F7C8A"/>
<circle cx="400.2" cy="1477.1" r="5.45" fill="#D40000"/>
<circle cx="426.5" cy="1477.1" r="5.45" fill="#D40000"/>
<circle cx="400.2" cy="1460.7" r="5.45" fill="#D40000"/>
<circle cx="426.5" cy="1460.7" r="5.45" fill="#D40000"/>
<circle cx="400.2" cy="1444.6" r="5.45" fill="#D40000"/>
<circle cx="426.5" cy="1444.6" r="5.45" fill="#D40000"/>
<circle cx="426.5" cy="1428.8" r="5.45" fill="#D40000"/>
<circle cx="400.2" cy="1412.4" r="5.45" fill="#D40000"/>
<circle cx="426.5" cy="1412.4" r="5.45" fill="#D40000"/>
<circle cx="393.7" cy="1507.8" r="5.45" fill="#7F7C8A"/>
<circle cx="450.6" cy="1507.8" r="5.45" fill="#fff"/>
<circle cx="442.4" cy="1522.2" r="5.45" fill="#fff"/>
<circle cx="398.1" cy="1358.9" r="5.45" fill="#D40000"/>
<circle cx="413.4" cy="1354.6" r="5.45" fill="#D40000"/>
<circle cx="428.8" cy="1358.9" r="5.45" fill="#D40000"/>
<circle cx="440.1" cy="1370.4" r="5.45" fill="#D40000"/>
<circle cx="443.6" cy="1386.6" r="5.45" fill="#fff"/>
<circle cx="438.8" cy="1401.5" r="5.45" fill="#D40000"/>
<circle cx="438.0" cy="1583.0" r="5.45" fill="#fff"/>
<circle cx="453.8" cy="1583.0" r="5.45" fill="#fff"/>
<circle cx="470.1" cy="1583.0" r="5.45" fill="#fff"/>
<circle cx="486.3" cy="1583.0" r="5.45" fill="#fff"/>
<circle cx="502.4" cy="1583.0" r="5.45" fill="#fff"/>
<circle cx="518.4" cy="1583.0" r="5.45" fill="#fff"/>
<circle cx="534.6" cy="1583.0" r="5.45" fill="#fff"/>
<circle cx="567.1" cy="1583.0" r="5.45" fill="#D40000"/>
<circle cx="583.4" cy="1583.0" r="5.45" fill="#D40000"/>
<circle cx="599.6" cy="1583.0" r="5.45" fill="#D40000"/>
<circle cx="615.7" cy="1583.0" r="5.45" fill="#D40000"/>
<circle cx="632.1" cy="1583.0" r="5.45" fill="#D40000"/>
</g>
<g fill="none" stroke="#BE1E2D" stroke-width="1.5">
<path d="M279.1,1352.4A47.2,47.2 0 0 1 357.3,1376.1"/>
<path d="M325.7,1340.4L368.7,1340.4L368.7,1592.5"/>
<path d="M319.5,1592.5L390.6,1592.5"/>
<path d="M374.9,1391.5A41.6,41.6 0 0 1 453.4,1393.6"/>
<path d="M411.6,1364.7L411.6,1340.4L583.2,1340.4"/>
<path d="M583.2,1319.9L583.2,1572.8"/>
<path d="M561.5,1572.8L651.0,1572.8"/>
</g>
<g font-size="15" text-anchor="middle">
<text x="167.6" y="1588.4" fill="#000">5'</text>
<text x="194.3" y="1588.4" fill="#86879B">A</text>
<text x="210.6" y="1588.4" fill="#D40000">G</text>
<text x="226.4" y="1588.4" fill="#D40000">U</text>
<text x="275.6" y="1588.4" fill="#D40000">Y</text>
<text x="291.9" y="1588.4" fill="#D40000">R</text>
<text x="340.1" y="1588.4" fill="#86879B">Y</text>
<text x="372.2" y="1588.4" fill="#D40000">Y</text>
<text x="388.9" y="1588.4" fill="#D40000">C</text>
<text x="276.1" y="1500.9" fill="#D40000">U</text>
<text x="280.0" y="1485.4" fill="#D40000">C</text>
<text x="274.7" y="1470.1" fill="#D40000">G</text>
<text x="281.4" y="1455.6" fill="#D40000">U</text>
<text x="226.4" y="1500.9" fill="#D40000">C</text>
<text x="216.4" y="1514.1" fill="#86879B">Y</text>
<text x="225.2" y="1475.4" fill="#D40000">G</text>
<text x="236.1" y="1463.1" fill="#D40000">C</text>
<text x="251.4" y="1458.4" fill="#D40000">C</text>
<text x="258.6" y="1443.8" fill="#D40000">A</text>
<text x="273.0" y="1415.3" fill="#86879B">C</text>
<text x="296.7" y="1427.1" fill="#86879B">G</text>
<text x="280.9" y="1400.8" fill="#D40000">R</text>
<text x="304.2" y="1412.2" fill="#D40000">Y</text>
<text x="272.4" y="1386.7" fill="#86879B">R</text>
<text x="271.2" y="1371.3" fill="#D40000">A</text>
<text x="275.6" y="1356.0" fill="#D40000">U</text>
<text x="287.5" y="1342.8" fill="#D40000">G</text>
<text x="302.5" y="1337.5" fill="#D40000">R</text>
<text x="342.9" y="1358.3" fill="#86879B">G</text>
<text x="346.4" y="1373.5" fill="#D40000">U</text>
<text x="344.1" y="1390.2" fill="#D40000">A</text>
<text x="334.4" y="1402.5" fill="#D40000">R</text>
<text x="320.4" y="1411.0" fill="#D40000">R</text>
<text x="237.8" y="1577.3" fill="#D40000">C</text>
<text x="264.5" y="1577.3" fill="#D40000">G</text>
<text x="237.8" y="1560.6" fill="#D40000">A</text>
<text x="264.5" y="1560.6" fill="#D40000">U</text>
<text x="237.8" y="1544.4" fill="#D40000">G</text>
<text x="264.5" y="1544.4" fill="#D40000">C</text>
<text x="237.8" y="1528.6" fill="#D40000">R</text>
<text x="264.5" y="1528.6" fill="#D40000">Y</text>
<text x="237.8" y="1512.8" fill="#D40000">C</text>
<text x="264.5" y="1512.8" fill="#D40000">G</text>
<text x="400.2" y="1434.1" fill="#86879B">Y</text>
<text x="442.7" y="1499.1" fill="#86879B">Y</text>
<text x="386.7" y="1376.5" fill="#86879B">R</text>
<text x="382.6" y="1392.3" fill="#86879B">Y</text>
<text x="387.9" y="1407.8" fill="#86879B">A</text>
<text x="550.7" y="1588.4" fill="#D40000">Y</text>
<text x="648.2" y="1588.4" fill="#86879B">Y</text>
<text x="664.2" y="1588.4" fill="#D40000">A</text>
</g>
<path d="M190.8,1573.2L215.9,1573.2M178.1,1583.0L186.9,1583.0" stroke="#000" stroke-width="1.1"/>
<g font-size="19" fill="#BE1E2D"><text x="287.9" y="1529.8">5-8nt PK</text><text x="503.8" y="1453.7">3-6nt PK</text></g>
<g fill="#D9E7C6">
<path d="M1329.5,1505.4L1361.3,1505.4L1361.3,1515.2L1329.5,1515.2Z"/>
<path d="M1326.2,1464.4L1359.7,1462.1L1360.2,1471.0L1326.7,1473.3Z"/>
<path d="M1322.5,1423.1L1355.7,1421.1L1356.2,1431.6L1323.0,1433.6Z"/>
<path d="M1278.2,1474.8L1289.0,1474.8L1289.7,1507.5L1278.9,1507.5Z"/>
<path d="M1291.8,1474.8L1302.6,1474.8L1303.3,1507.5L1292.5,1507.5Z"/>
<path d="M1305.2,1474.8L1316.1,1474.8L1316.7,1507.5L1305.9,1507.5Z"/>
<path d="M1545.6,1532.0L1577.8,1532.0L1577.8,1541.8L1545.6,1541.8Z"/>
<path d="M1545.6,1518.4L1577.8,1518.4L1577.8,1528.2L1545.6,1528.2Z"/>
<path d="M1545.6,1504.9L1577.8,1504.9L1577.8,1514.7L1545.6,1514.7Z"/>
<path d="M1545.6,1491.7L1577.8,1491.7L1577.8,1501.4L1545.6,1501.4Z"/>
</g>
<g stroke="#000" stroke-width="2.5">
<path d="M1342.1,1537.0L1348.7,1537.0M1342.1,1523.6L1348.7,1523.6M1342.1,1510.0L1348.7,1510.0M1340.5,1468.0L1346.6,1467.5M1338.9,1454.6L1345.4,1453.9M1337.2,1441.1L1344.1,1440.3M1335.6,1427.5L1342.5,1426.9M1334.8,1413.9L1341.3,1413.3M1283.6,1487.5L1283.9,1493.9M1297.0,1487.5L1297.4,1493.9M1310.3,1487.5L1310.7,1493.9M1323.8,1487.5L1324.1,1493.9M1558.2,1536.9L1564.7,1536.9M1558.2,1523.3L1564.7,1523.3M1558.2,1509.8L1564.7,1509.8M1558.2,1496.6L1564.7,1496.6"/>
</g>
<g stroke="#000" stroke-width="1.3">
<circle cx="1257.4" cy="1546.9" r="4.5" fill="#fff"/>
<circle cx="1270.5" cy="1546.9" r="4.5" fill="#000"/>
<circle cx="1284.3" cy="1546.9" r="4.5" fill="#DC1F26"/>
<circle cx="1379.0" cy="1546.9" r="4.5" fill="#fff"/>
<circle cx="1406.1" cy="1546.9" r="4.5" fill="#77727E"/>
<circle cx="1419.7" cy="1546.9" r="4.5" fill="#fff"/>
<circle cx="1433.1" cy="1546.9" r="4.5" fill="#77727E"/>
<circle cx="1369.2" cy="1487.5" r="4.5" fill="#DC1F26"/>
<circle cx="1365.9" cy="1501.0" r="4.5" fill="#DC1F26"/>
<circle cx="1328.2" cy="1428.0" r="4.5" fill="#DC1F26"/>
<circle cx="1350.3" cy="1426.4" r="4.5" fill="#DC1F26"/>
<circle cx="1326.6" cy="1414.4" r="4.5" fill="#DC1F26"/>
<circle cx="1317.0" cy="1405.6" r="4.5" fill="#DC1F26"/>
<circle cx="1356.6" cy="1401.8" r="4.5" fill="#DC1F26"/>
<circle cx="1271.6" cy="1473.6" r="4.5" fill="#77727E"/>
<circle cx="1258.0" cy="1475.9" r="4.5" fill="#fff"/>
<circle cx="1249.5" cy="1486.7" r="4.5" fill="#fff"/>
<circle cx="1250.0" cy="1500.2" r="4.5" fill="#fff"/>
<circle cx="1259.3" cy="1509.7" r="4.5" fill="#fff"/>
<circle cx="1273.3" cy="1510.3" r="4.5" fill="#77727E"/>
<circle cx="1446.7" cy="1546.5" r="4.5" fill="#fff"/>
<circle cx="1460.2" cy="1546.5" r="4.5" fill="#fff"/>
<circle cx="1473.7" cy="1546.5" r="4.5" fill="#77727E"/>
<circle cx="1487.3" cy="1546.5" r="4.5" fill="#77727E"/>
<circle cx="1500.8" cy="1546.5" r="4.5" fill="#77727E"/>
<circle cx="1514.3" cy="1546.5" r="4.5" fill="#fff"/>
<circle cx="1527.8" cy="1546.5" r="4.5" fill="#fff"/>
<circle cx="1541.4" cy="1546.5" r="4.5" fill="#fff"/>
<circle cx="1595.8" cy="1546.5" r="4.5" fill="#77727E"/>
<circle cx="1609.4" cy="1546.5" r="4.5" fill="#fff"/>
<circle cx="1622.9" cy="1546.5" r="4.5" fill="#fff"/>
<circle cx="1550.5" cy="1536.9" r="4.5" fill="#DC1F26"/>
<circle cx="1572.7" cy="1536.9" r="4.5" fill="#000"/>
<circle cx="1550.5" cy="1523.3" r="4.5" fill="#DC1F26"/>
<circle cx="1572.7" cy="1523.3" r="4.5" fill="#000"/>
<circle cx="1550.5" cy="1509.8" r="4.5" fill="#000"/>
<circle cx="1572.7" cy="1509.8" r="4.5" fill="#000"/>
<circle cx="1550.5" cy="1496.6" r="4.5" fill="#000"/>
<circle cx="1572.7" cy="1496.6" r="4.5" fill="#000"/>
<circle cx="1540.5" cy="1487.7" r="4.5" fill="#DC1F26"/>
<circle cx="1536.3" cy="1474.8" r="4.5" fill="#77727E"/>
<circle cx="1548.8" cy="1451.9" r="4.5" fill="#fff"/>
<circle cx="1561.5" cy="1448.3" r="4.5" fill="#fff"/>
<circle cx="1574.6" cy="1451.9" r="4.5" fill="#fff"/>
<circle cx="1584.3" cy="1461.5" r="4.5" fill="#77727E"/>
<circle cx="1587.1" cy="1474.8" r="4.5" fill="#fff"/>
<circle cx="1582.7" cy="1487.7" r="4.5" fill="#fff"/>
</g>
<g fill="none" stroke="#D2232A" stroke-width="1.4">
<path d="M1317.2,1363.3L1350.8,1363.3"/>
<path d="M1333.1,1363.3L1333.1,1329.7L1404.9,1329.7L1404.9,1533.0"/>
<path d="M1386.9,1533.0L1424.4,1533.0"/>
<path d="M1356.6,1475.9L1356.6,1500.5"/>
<path d="M1356.6,1489.2L1283.9,1536.7"/>
<path d="M1263.4,1536.7L1302.8,1536.7"/>
</g>
<g font-size="13.6" text-anchor="middle">
<text x="1236.4" y="1551.8" fill="#000">5'</text>
<text x="1297.4" y="1551.8" fill="#DC1F26">G</text>
<text x="1311.0" y="1551.8" fill="#000">C</text>
<text x="1324.6" y="1551.8" fill="#808285">A</text>
<text x="1334.3" y="1542.4" fill="#808285">A</text>
<text x="1355.7" y="1542.4" fill="#808285">C</text>
<text x="1365.6" y="1551.8" fill="#808285">C</text>
<text x="1393.0" y="1551.8" fill="#808285">G</text>
<text x="1334.3" y="1528.8" fill="#808285">G</text>
<text x="1356.1" y="1528.8" fill="#000">Y</text>
<text x="1334.3" y="1515.2" fill="#DC1F26">R</text>
<text x="1356.4" y="1515.2" fill="#808285">Y</text>
<text x="1364.3" y="1480.1" fill="#DC1F26">C</text>
<text x="1332.0" y="1473.9" fill="#808285">G</text>
<text x="1354.4" y="1471.9" fill="#808285">C</text>
<text x="1330.2" y="1460.4" fill="#000">G</text>
<text x="1352.5" y="1458.0" fill="#DC1F26">Y</text>
<text x="1329.3" y="1446.8" fill="#DC1F26">G</text>
<text x="1351.1" y="1444.7" fill="#DC1F26">C</text>
<text x="1348.4" y="1417.8" fill="#808285">Y</text>
<text x="1315.1" y="1396.8" fill="#000">U</text>
<text x="1321.6" y="1385.7" fill="#808285">R</text>
<text x="1334.3" y="1380.4" fill="#DC1F26">A</text>
<text x="1347.0" y="1382.9" fill="#DC1F26">C</text>
<text x="1356.1" y="1393.2" fill="#808285">G</text>
<text x="1283.1" y="1484.5" fill="#808285">Y</text>
<text x="1296.6" y="1484.5" fill="#DC1F26">Y</text>
<text x="1309.8" y="1484.5" fill="#808285">Y</text>
<text x="1323.3" y="1484.5" fill="#DC1F26">Y</text>
<text x="1283.9" y="1507.0" fill="#808285">R</text>
<text x="1297.5" y="1507.0" fill="#DC1F26">R</text>
<text x="1311.0" y="1507.0" fill="#808285">R</text>
<text x="1324.4" y="1505.9" fill="#DC1F26">R</text>
<text x="1581.9" y="1551.4" fill="#808285">Y</text>
<text x="1538.9" y="1467.0" fill="#000">R</text>
</g>
<path d="M1244.3,1546.9L1251.1,1546.9" stroke="#000" stroke-width="1.1"/>
<text x="1410.7" y="1400.7" font-size="20.6" fill="#D2232A">3nt PK</text>
<g fill="#CFE0C3">
<path d="M261.5,2323.8L292.1,2323.8L292.1,2333.4L261.5,2333.4Z"/>
<path d="M261.5,2310.6L292.1,2310.6L292.1,2320.3L261.5,2320.3Z"/>
<path d="M390.5,2349.8L421.4,2349.8L421.4,2359.4L390.5,2359.4Z"/>
<path d="M390.5,2337.1L421.4,2337.1L421.4,2346.8L390.5,2346.8Z"/>
<path d="M390.5,2323.9L421.4,2323.9L421.4,2333.6L390.5,2333.6Z"/>
<path d="M238.7,2281.3L249.2,2281.3L249.2,2312.0L238.7,2312.0Z"/>
<path d="M225.3,2281.3L235.9,2281.3L235.9,2312.0L225.3,2312.0Z"/>
<path d="M212.7,2283.0L223.2,2283.0L223.2,2312.0L212.7,2312.0Z"/>
<path d="M281.4,2251.0L309.4,2264.4L313.5,2255.8L285.5,2242.4Z"/>
<path d="M288.0,2238.2L314.9,2252.0L319.2,2243.6L292.3,2229.7Z"/>
<path d="M294.1,2226.5L320.9,2240.8L325.4,2232.4L298.6,2218.1Z"/>
</g>
<g stroke="#000" stroke-width="2.4">
<path d="M273.8,2367.9L280.3,2367.9M273.8,2354.3L280.3,2354.3M273.8,2341.5L280.3,2341.5M273.8,2328.3L280.3,2328.3M273.8,2315.2L280.3,2315.2M402.9,2367.7L409.4,2367.7M402.9,2354.2L409.4,2354.2M402.9,2341.5L409.4,2341.5M402.9,2328.3L409.4,2328.3M402.9,2315.2L409.4,2315.2M256.3,2292.7L256.3,2299.4M243.4,2293.6L243.4,2300.1M230.6,2293.6L230.6,2300.6M217.6,2294.4L217.6,2301.1M283.0,2274.2L289.6,2277.7M289.1,2263.3L295.3,2266.7M294.4,2251.9L300.5,2255.1M301.4,2239.6L306.7,2242.1M307.5,2228.0L312.8,2230.9"/>
</g>
<g stroke="#000" stroke-width="1.3">
<circle cx="416.5" cy="2367.7" r="4.45" fill="#77727E"/>
<circle cx="416.5" cy="2328.7" r="4.45" fill="#E02020"/>
<circle cx="395.4" cy="2315.2" r="4.45" fill="#000"/>
<circle cx="416.5" cy="2315.2" r="4.45" fill="#000"/>
<circle cx="405.9" cy="2286.0" r="4.45" fill="#000"/>
<circle cx="231.5" cy="2377.0" r="4.45" fill="#E02020"/>
<circle cx="322.0" cy="2377.0" r="4.45" fill="#77727E"/>
<circle cx="334.8" cy="2377.0" r="4.45" fill="#fff"/>
<circle cx="348.0" cy="2377.0" r="4.45" fill="#77727E"/>
<circle cx="360.8" cy="2377.0" r="4.45" fill="#77727E"/>
<circle cx="373.8" cy="2377.0" r="4.45" fill="#E02020"/>
<circle cx="438.4" cy="2377.0" r="4.45" fill="#000"/>
<circle cx="243.1" cy="2285.7" r="4.45" fill="#fff"/>
<circle cx="230.8" cy="2307.6" r="4.45" fill="#000"/>
<circle cx="230.3" cy="2286.2" r="4.45" fill="#fff"/>
<circle cx="218.0" cy="2308.0" r="4.45" fill="#fff"/>
<circle cx="217.4" cy="2287.1" r="4.45" fill="#fff"/>
<circle cx="206.5" cy="2279.0" r="4.45" fill="#fff"/>
<circle cx="194.3" cy="2279.0" r="4.45" fill="#fff"/>
<circle cx="183.7" cy="2286.5" r="4.45" fill="#fff"/>
<circle cx="179.8" cy="2299.4" r="4.45" fill="#fff"/>
<circle cx="184.9" cy="2311.7" r="4.45" fill="#fff"/>
<circle cx="196.0" cy="2318.2" r="4.45" fill="#fff"/>
<circle cx="208.8" cy="2316.9" r="4.45" fill="#fff"/>
<circle cx="294.4" cy="2236.1" r="4.45" fill="#E02020"/>
<circle cx="312.8" cy="2245.6" r="4.45" fill="#E02020"/>
<circle cx="300.5" cy="2224.5" r="4.45" fill="#000"/>
<circle cx="319.0" cy="2234.4" r="4.45" fill="#E02020"/>
<circle cx="296.5" cy="2306.4" r="4.45" fill="#E02020"/>
<circle cx="293.0" cy="2213.6" r="4.45" fill="#77727E"/>
<circle cx="290.9" cy="2200.5" r="4.45" fill="#77727E"/>
<circle cx="294.4" cy="2187.3" r="4.45" fill="#77727E"/>
<circle cx="301.9" cy="2177.1" r="4.45" fill="#fff"/>
<circle cx="313.2" cy="2170.6" r="4.45" fill="#fff"/>
<circle cx="325.6" cy="2168.8" r="4.45" fill="#fff"/>
<circle cx="338.3" cy="2172.4" r="4.45" fill="#fff"/>
<circle cx="354.6" cy="2192.2" r="4.45" fill="#77727E"/>
<circle cx="355.9" cy="2205.7" r="4.45" fill="#fff"/>
<circle cx="464.3" cy="2377.2" r="4.45" fill="#77727E"/>
<circle cx="477.0" cy="2377.2" r="4.45" fill="#77727E"/>
<circle cx="490.0" cy="2377.2" r="4.45" fill="#77727E"/>
<circle cx="515.9" cy="2377.2" r="4.45" fill="#77727E"/>
<circle cx="528.7" cy="2377.2" r="4.45" fill="#fff"/>
<circle cx="541.6" cy="2377.2" r="4.45" fill="#fff"/>
<circle cx="554.4" cy="2377.2" r="4.45" fill="#fff"/>
</g>
<g fill="none" stroke="#C8232C" stroke-width="1.4">
<path d="M285.1,2176.4A44.4,44.4 0 0 1 363.4,2181.5"/>
<path d="M323.7,2155.3L323.7,2130.2L345.7,2130.2L345.7,2367.3"/>
<path d="M316.9,2367.7L378.2,2367.7"/>
<path d="M291.2,2287.9L286.8,2306.7"/>
<path d="M288.4,2298.3L237.3,2367.3"/>
<path d="M225.5,2367.7L247.5,2367.7"/>
</g>
<g font-size="12.6" text-anchor="middle">
<text x="211.3" y="2381.5" fill="#000">5'</text>
<text x="244.0" y="2381.5" fill="#E02020">G</text>
<text x="257.1" y="2381.5" fill="#E02020">U</text>
<text x="296.1" y="2381.5" fill="#858797">Y</text>
<text x="309.0" y="2381.5" fill="#858797">R</text>
<text x="386.2" y="2381.5" fill="#858797">C</text>
<text x="425.2" y="2381.9" fill="#858797">Y</text>
<text x="451.1" y="2381.5" fill="#858797">R</text>
<text x="257.0" y="2311.2" fill="#E02020">C</text>
<text x="256.3" y="2290.2" fill="#E02020">G</text>
<text x="244.0" y="2311.6" fill="#858797">R</text>
<text x="264.5" y="2279.6" fill="#E02020">C</text>
<text x="276.3" y="2276.1" fill="#000">C</text>
<text x="295.3" y="2285.8" fill="#E02020">G</text>
<text x="282.4" y="2264.7" fill="#E02020">A</text>
<text x="300.5" y="2274.4" fill="#E02020">U</text>
<text x="287.7" y="2253.3" fill="#E02020">Y</text>
<text x="307.2" y="2262.6" fill="#858797">G</text>
<text x="331.3" y="2238.9" fill="#858797">R</text>
<text x="343.0" y="2231.8" fill="#858797">R</text>
<text x="351.5" y="2222.5" fill="#858797">R</text>
<text x="348.8" y="2184.8" fill="#858797">R</text>
<text x="299.6" y="2298.6" fill="#E02020">C</text>
<text x="389.8" y="2308.6" fill="#858797">R</text>
<text x="422.6" y="2308.6" fill="#858797">R</text>
<text x="394.0" y="2296.0" fill="#858797">R</text>
<text x="418.2" y="2296.0" fill="#858797">G</text>
<text x="266.3" y="2372.7" fill="#E02020">C</text>
<text x="287.3" y="2372.7" fill="#E02020">G</text>
<text x="266.3" y="2359.2" fill="#E02020">A</text>
<text x="287.3" y="2359.2" fill="#E02020">U</text>
<text x="266.3" y="2346.4" fill="#E02020">G</text>
<text x="287.3" y="2346.4" fill="#E02020">C</text>
<text x="266.3" y="2333.2" fill="#858797">G</text>
<text x="287.3" y="2333.2" fill="#858797">Y</text>
<text x="266.3" y="2320.0" fill="#858797">C</text>
<text x="287.3" y="2320.0" fill="#858797">G</text>
<text x="395.4" y="2372.7" fill="#858797">C</text>
<text x="395.4" y="2359.0" fill="#858797">Y</text>
<text x="416.5" y="2359.0" fill="#858797">R</text>
<text x="395.4" y="2346.4" fill="#858797">C</text>
<text x="416.5" y="2346.4" fill="#858797">G</text>
<text x="395.4" y="2333.2" fill="#858797">R</text>
<text x="503.1" y="2381.7" fill="#858797">A</text>
</g>
<path d="M218.3,2377.0L224.6,2377.0" stroke="#000" stroke-width="1.1"/>
<text x="352.0" y="2263.7" font-size="20.3" fill="#C8232C">2-6nt PK</text>
<g stroke="#000" stroke-width="2.0">
<path d="M1328.6,2338.1L1328.6,2344.2M1339.2,2338.1L1339.2,2344.2M1350.1,2338.1L1350.1,2344.2M1360.8,2338.1L1360.8,2344.2M1371.5,2338.1L1371.5,2344.2M1382.2,2338.1L1382.2,2344.2M1396.3,2377.1L1402.1,2377.1M1396.3,2366.2L1402.1,2366.2M1396.3,2355.5L1402.1,2355.5M1394.7,2322.3L1400.1,2321.4M1393.6,2311.1L1399.0,2310.6M1392.8,2300.8L1398.3,2300.4M1391.6,2290.4L1397.1,2290.1M1390.7,2279.5L1396.2,2279.0"/>
</g>
<g stroke="#000" stroke-width="1.2">
<circle cx="1315.8" cy="2303.6" r="3.25" fill="#fff"/>
<circle cx="1309.2" cy="2295.1" r="3.25" fill="#fff"/>
<circle cx="1301.5" cy="2287.6" r="3.25" fill="#fff"/>
<circle cx="1292.8" cy="2281.3" r="3.25" fill="#fff"/>
<circle cx="1283.3" cy="2276.2" r="3.25" fill="#fff"/>
<circle cx="1273.2" cy="2272.5" r="3.25" fill="#fff"/>
<circle cx="1262.7" cy="2270.3" r="3.25" fill="#fff"/>
<circle cx="1252.0" cy="2269.6" r="3.25" fill="#fff"/>
<circle cx="1241.3" cy="2270.4" r="3.25" fill="#fff"/>
<circle cx="1230.8" cy="2272.6" r="3.25" fill="#fff"/>
<circle cx="1220.7" cy="2276.4" r="3.25" fill="#fff"/>
<circle cx="1211.3" cy="2281.5" r="3.25" fill="#fff"/>
<circle cx="1202.6" cy="2287.9" r="3.25" fill="#fff"/>
<circle cx="1195.0" cy="2295.4" r="3.25" fill="#fff"/>
<circle cx="1188.4" cy="2303.9" r="3.25" fill="#fff"/>
<circle cx="1183.2" cy="2313.3" r="3.25" fill="#fff"/>
<circle cx="1179.2" cy="2323.3" r="3.25" fill="#fff"/>
<circle cx="1176.8" cy="2333.8" r="3.25" fill="#fff"/>
<circle cx="1175.8" cy="2344.5" r="3.25" fill="#fff"/>
<circle cx="1176.4" cy="2355.2" r="3.25" fill="#fff"/>
<circle cx="1178.4" cy="2365.8" r="3.25" fill="#fff"/>
<circle cx="1181.9" cy="2375.9" r="3.25" fill="#fff"/>
<circle cx="1186.8" cy="2385.5" r="3.25" fill="#fff"/>
<circle cx="1193.0" cy="2394.3" r="3.25" fill="#fff"/>
<circle cx="1200.4" cy="2402.1" r="3.25" fill="#fff"/>
<circle cx="1208.7" cy="2408.8" r="3.25" fill="#fff"/>
<circle cx="1218.0" cy="2414.3" r="3.25" fill="#fff"/>
<circle cx="1227.9" cy="2418.4" r="3.25" fill="#fff"/>
<circle cx="1238.3" cy="2421.1" r="3.25" fill="#fff"/>
<circle cx="1249.0" cy="2422.3" r="3.25" fill="#fff"/>
<circle cx="1259.7" cy="2422.0" r="3.25" fill="#fff"/>
<circle cx="1270.3" cy="2420.2" r="3.25" fill="#fff"/>
<circle cx="1280.6" cy="2416.9" r="3.25" fill="#fff"/>
<circle cx="1290.2" cy="2412.3" r="3.25" fill="#fff"/>
<circle cx="1299.2" cy="2406.3" r="3.25" fill="#fff"/>
<circle cx="1307.2" cy="2399.1" r="3.25" fill="#fff"/>
<circle cx="1314.1" cy="2390.9" r="3.25" fill="#fff"/>
<circle cx="1319.7" cy="2381.7" r="3.25" fill="#fff"/>
<circle cx="1325.6" cy="2323.2" r="3.25" fill="#DC1F26"/>
</g>
<g fill="none" stroke="#CE2430" stroke-width="1.4">
<path d="M1363.2,2255.5A27.8,27.8 0 0 1 1418.2,2261.7"/>
<path d="M1390.1,2233.6L1390.1,2191.4L1458.1,2191.4L1458.1,2372.7"/>
<path d="M1409.1,2324.4L1410.3,2349.5"/>
<path d="M1409.6,2339.0L1357.6,2375.9"/>
<path d="M1346.2,2375.9L1373.4,2375.9"/>
<path d="M1433.1,2372.5L1484.6,2372.5"/>
</g>
<g font-size="10.2" text-anchor="middle">
<text x="1321.6" y="2317.1" fill="#DA2A38">A</text>
<text x="1327.7" y="2337.3" fill="#DA2A38">C</text>
<text x="1338.3" y="2336.8" fill="#DA2A38">U</text>
<text x="1349.7" y="2336.1" fill="#DA2A38">G</text>
<text x="1360.2" y="2335.8" fill="#DA2A38">R</text>
<text x="1370.8" y="2335.1" fill="#DA2A38">U</text>
<text x="1382.2" y="2334.4" fill="#DA2A38">G</text>
<text x="1328.6" y="2354.4" fill="#DA2A38">G</text>
<text x="1339.5" y="2354.0" fill="#DA2A38">A</text>
<text x="1350.2" y="2353.7" fill="#DA2A38">Y</text>
<text x="1360.8" y="2353.3" fill="#DA2A38">Y</text>
<text x="1371.7" y="2352.6" fill="#DA2A38">A</text>
<text x="1382.2" y="2351.9" fill="#DA2A38">C</text>
<text x="1327.4" y="2365.5" fill="#DA2A38">U</text>
<text x="1324.6" y="2376.5" fill="#DA2A38">A</text>
<text x="1339.7" y="2388.3" fill="#DA2A38">R</text>
<text x="1350.6" y="2388.3" fill="#DA2A38">G</text>
<text x="1361.5" y="2388.3" fill="#DA2A38">G</text>
<text x="1372.2" y="2388.3" fill="#DA2A38">C</text>
<text x="1383.1" y="2388.3" fill="#DA2A38">A</text>
<text x="1390.6" y="2380.7" fill="#DA2A38">R</text>
<text x="1407.7" y="2380.7" fill="#DA2A38">U</text>
<text x="1390.6" y="2369.8" fill="#DA2A38">C</text>
<text x="1408.0" y="2369.8" fill="#DA2A38">G</text>
<text x="1390.6" y="2359.3" fill="#DA2A38">A</text>
<text x="1407.7" y="2359.0" fill="#DA2A38">U</text>
<text x="1415.6" y="2388.3" fill="#DA2A38">G</text>
<text x="1415.1" y="2352.3" fill="#DA2A38">Y</text>
<text x="1418.2" y="2341.4" fill="#DA2A38">C</text>
<text x="1414.7" y="2330.8" fill="#DA2A38">C</text>
<text x="1388.9" y="2326.8" fill="#DA2A38">R</text>
<text x="1405.9" y="2324.2" fill="#DA2A38">Y</text>
<text x="1387.8" y="2315.4" fill="#DA2A38">G</text>
<text x="1404.7" y="2313.6" fill="#DA2A38">C</text>
<text x="1386.9" y="2304.9" fill="#DA2A38">G</text>
<text x="1404.2" y="2303.6" fill="#DA2A38">C</text>
<text x="1385.7" y="2294.3" fill="#DA2A38">U</text>
<text x="1402.9" y="2293.4" fill="#DA2A38">A</text>
<text x="1384.8" y="2283.8" fill="#DA2A38">G</text>
<text x="1402.1" y="2282.0" fill="#DA2A38">C</text>
<text x="1376.4" y="2277.3" fill="#DA2A38">A</text>
<text x="1373.4" y="2266.2" fill="#DA2A38">G</text>
<text x="1376.4" y="2255.7" fill="#DA2A38">U</text>
<text x="1384.8" y="2249.5" fill="#DA2A38">U</text>
<text x="1395.4" y="2248.6" fill="#DA2A38">G</text>
<text x="1404.7" y="2253.6" fill="#DA2A38">C</text>
<text x="1410.3" y="2263.0" fill="#DA2A38">G</text>
<text x="1409.1" y="2274.1" fill="#DA2A38">A</text>
<text x="1322.0" y="2388.3" fill="#222">5'</text>
<text x="1426.3" y="2388.7" fill="#DA2A38">A</text>
<text x="1437.1" y="2388.7" fill="#DA2A38">G</text>
<text x="1447.8" y="2388.7" fill="#DA2A38">C</text>
<text x="1458.6" y="2388.7" fill="#DA2A38">A</text>
<text x="1469.5" y="2388.7" fill="#DA2A38">A</text>
<text x="1480.1" y="2388.7" fill="#DA2A38">C</text>
<text x="1491.0" y="2388.7" fill="#DA2A38">C</text>
<text x="1512.3" y="2388.7" fill="#DA2A38">R</text>
<text x="1533.5" y="2388.7" fill="#DA2A38">Y</text>
<text x="1631.2" y="2388.7" fill="#DA2A38">Y</text>
</g>
<path d="M1329.0,2384.6L1334.8,2384.6" stroke="#333" stroke-width="1.1"/>
<g stroke="#000" stroke-width="2.0">
<path d="M1547.6,2377.0L1552.8,2377.0M1547.6,2366.2L1552.8,2366.2M1547.6,2344.7L1552.8,2344.7M1547.6,2333.9L1552.8,2333.9M1547.6,2323.0L1552.8,2323.0M1547.6,2355.4L1552.8,2355.4"/>
</g>
<g stroke="#000" stroke-width="1.25">
<circle cx="1501.9" cy="2384.9" r="3.45" fill="#DC1F26"/>
<circle cx="1523.3" cy="2384.9" r="3.45" fill="#fff"/>
<circle cx="1566.6" cy="2384.9" r="3.45" fill="#fff"/>
<circle cx="1577.4" cy="2384.9" r="3.45" fill="#fff"/>
<circle cx="1587.9" cy="2384.9" r="3.45" fill="#fff"/>
<circle cx="1598.7" cy="2384.9" r="3.45" fill="#fff"/>
<circle cx="1609.4" cy="2384.9" r="3.45" fill="#fff"/>
<circle cx="1620.2" cy="2384.9" r="3.45" fill="#fff"/>
<circle cx="1559.1" cy="2377.0" r="3.45" fill="#fff"/>
<circle cx="1541.5" cy="2366.2" r="3.45" fill="#DC1F26"/>
<circle cx="1559.1" cy="2366.2" r="3.45" fill="#DC1F26"/>
<circle cx="1541.5" cy="2344.7" r="3.45" fill="#DC1F26"/>
<circle cx="1559.1" cy="2344.7" r="3.45" fill="#DC1F26"/>
<circle cx="1541.5" cy="2333.9" r="3.45" fill="#DC1F26"/>
<circle cx="1559.1" cy="2333.9" r="3.45" fill="#DC1F26"/>
<circle cx="1541.5" cy="2323.0" r="3.45" fill="#DC1F26"/>
<circle cx="1559.1" cy="2323.0" r="3.45" fill="#DC1F26"/>
<circle cx="1532.8" cy="2316.6" r="3.45" fill="#DC1F26"/>
<circle cx="1555.6" cy="2281.9" r="3.45" fill="#DC1F26"/>
<circle cx="1565.1" cy="2287.1" r="3.45" fill="#DC1F26"/>
<circle cx="1567.5" cy="2316.6" r="3.45" fill="#DC1F26"/>
</g>
<g fill="none" stroke="#CE2430" stroke-width="1.4">
</g>
<g font-size="10" text-anchor="middle">
<text x="1541.5" y="2380.6" fill="#DA2A38">U</text>
<text x="1541.5" y="2358.9" fill="#DA2A38">R</text>
<text x="1559.1" y="2358.9" fill="#DA2A38">Y</text>
<text x="1528.5" y="2310.7" fill="#DA2A38">U</text>
<text x="1528.9" y="2299.9" fill="#DA2A38">Y</text>
<text x="1535.2" y="2291.1" fill="#DA2A38">U</text>
<text x="1544.8" y="2285.9" fill="#DA2A38">R</text>
<text x="1571.0" y="2299.9" fill="#DA2A38">G</text>
<text x="1571.7" y="2311.2" fill="#DA2A38">A</text>
</g>
<text x="1465" y="2245.8" font-size="21.8" fill="#C8202A">5nt PK</text>
</svg>
</body></html>
